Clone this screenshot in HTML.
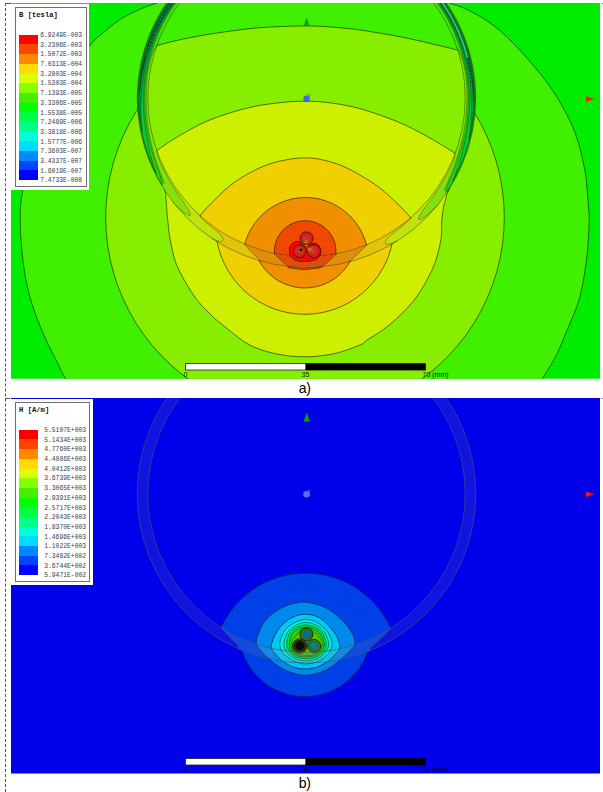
<!DOCTYPE html>
<html><head><meta charset="utf-8"><title>fig</title>
<style>html,body{margin:0;padding:0;background:#fff}body{width:603px;height:792px;position:relative;overflow:hidden;font-family:"Liberation Sans",sans-serif}</style>
</head><body>
<svg width="603" height="792" viewBox="0 0 603 792" style="position:absolute;left:0;top:0">
<defs>
<clipPath id="ca"><rect x="11" y="3" width="589" height="375.8"/></clipPath>
<clipPath id="cb"><rect x="11" y="398" width="589" height="375.6"/></clipPath>
<clipPath id="aout"><path clip-rule="evenodd" d="M-50 -50H700V450H-50Z M137.5 98a169 169 0 1 0 338 0a169 169 0 1 0 -338 0Z"/></clipPath>
<clipPath id="ain"><path clip-rule="evenodd" d="M147.5 98a159 159 0 1 0 318 0a159 159 0 1 0 -318 0Z "/></clipPath>
<clipPath id="awallc"><path clip-rule="evenodd" d="M137.2 98a169.3 169.3 0 1 0 338.6 0a169.3 169.3 0 1 0 -338.6 0Z M147.8 98a158.7 158.7 0 1 0 317.4 0a158.7 158.7 0 1 0 -317.4 0Z"/></clipPath>
<clipPath id="bout"><path clip-rule="evenodd" d="M-50 350H700V850H-50Z M137.5 493.7a169 169 0 1 0 338 0a169 169 0 1 0 -338 0Z"/></clipPath>
<clipPath id="bin"><path clip-rule="evenodd" d="M147.5 493.7a159 159 0 1 0 318 0a159 159 0 1 0 -318 0Z "/></clipPath>
</defs>
<g clip-path="url(#ca)">
<rect x="0" y="0" width="603" height="400" fill="#00ec00"/>
<path d="M157 3C148.33 6 144.17 7.25 138 10C131.83 12.75 125.67 15.83 120 19.5C114.33 23.17 109.08 27.58 104 32C98.92 36.42 96.83 37.17 89.5 46C82.17 54.83 68.92 70.17 60 85C51.08 99.83 42.2 117.5 36 135C29.8 152.5 25.42 175.5 22.8 190C20.18 204.5 20.3 210.52 20.3 222C20.3 233.48 21.57 247.83 22.8 258.9C24.03 269.97 25.65 279.38 27.7 288.4C29.75 297.42 32.22 304.78 35.1 313C37.98 321.22 41.3 329.48 45 337.7C48.7 345.92 53.82 355.45 57.3 362.3C60.78 369.15 58.78 367.52 65.9 378.8C73.02 390.08 60.15 409.8 100 430C139.85 450.2 236.67 500 305 500C373.33 500 470.43 450.2 510 430C549.57 409.8 534.63 391.37 542.4 378.8C550.17 366.23 552.47 362.77 556.6 354.6C560.73 346.43 563.37 339.23 567.2 329.8C571.03 320.37 576.37 309.8 579.6 298C582.83 286.2 585.02 271.37 586.6 259C588.18 246.63 588.8 232.63 589.1 223.8C589.4 214.97 589.1 214.85 588.4 206C587.7 197.15 586.97 182.47 584.9 170.7C582.83 158.93 579.43 145.52 576 135.4C572.57 125.28 568.97 118.6 564.3 110C559.63 101.4 555.22 93.57 548 83.8C540.78 74.03 530 61.08 521 51.4C512 41.72 503 32.68 494 25.7C485 18.72 474.42 13.28 467 9.5C459.58 5.72 457.33 5.92 449.5 3C441.67 0.08 444.08 -2.5 420 -8C395.92 -13.5 343.33 -30 305 -30C266.67 -30 214.67 -13.5 190 -8C165.33 -2.5 165.67 0 157 3Z" fill="#40f000" stroke="rgba(0,0,0,0.68)" stroke-width="0.8"/>
<circle cx="306.5" cy="98.0" r="164.0" fill="none" stroke="#40f000" stroke-width="12.200000000000022"/>
<path d="M156.63 45.81L156.17 46.58L155.55 47.57L154.81 48.79L154.02 50.24L153.2 51.91L152.41 53.82L151.66 55.91L150.93 58.18L150.21 60.69L149.85 62.09L149.5 63.48L149.15 65.04L148.81 66.59L148.47 68.33L148.14 70.08L147.83 72.07L147.53 74.06L147.35 75.55L147.18 77.03L147.02 78.52L146.88 80.12L146.75 81.71L146.64 83.31L146.53 84.96L146.45 86.61L146.38 88.26L146.32 89.91L146.27 91.56L146.25 93.21L146.21 94.8L146.2 96.4L146.2 98L146.19 99.55L146.2 101.11L146.23 102.66L146.26 104.22L146.3 105.77L146.36 107.33L146.42 108.88L146.49 110.44L146.59 111.99L146.68 113.55L146.8 115.1L146.92 116.65L147.06 118.2L147.21 119.76L147.37 121.31L147.55 122.86L147.74 124.41L147.95 125.96L148.16 127.54L148.4 129.12L148.65 130.69L148.91 132.31L149.2 133.92L149.49 135.53L149.8 137.14L150.13 138.75L150.47 140.36L150.81 141.92L151.16 143.49L151.54 145.05L151.9 146.53L152.28 148.01L152.67 149.49L153.22 151.54L153.8 153.58L154.34 155.46L154.91 157.33L155.45 159.1L156.01 160.86L156.54 162.51L157.09 164.15L157.6 165.68L158.14 167.21L158.63 168.62L159.14 170.02L160.11 172.59L161.01 174.95L161.84 177.11L162.59 179.05L163.25 180.72L163.8 182.1L164.23 183.15L160.54 185.35L162.09 187.89L163.69 190.4L165.32 192.88L167 195.34L168.73 197.76L170.49 200.16L172.3 202.52L174.15 204.85L176.03 207.15L177.96 209.41L179.93 211.64L181.94 213.83L183.98 215.99L186.06 218.12L188.18 220.21L190.33 222.26L192.52 224.27L194.75 226.24L197.01 228.17L199.3 230.07L201.63 231.92L203.98 233.74L206.37 235.51L208.79 237.24L211.24 238.92L213.72 240.57L216.22 242.17L218.76 243.72L221.32 245.24L223.91 246.7L226.52 248.12L229.16 249.5L231.82 250.83L234.5 252.11L237.2 253.34L239.93 254.53L242.68 255.67L245.44 256.76L248.23 257.81L251.03 258.8L253.85 259.75L256.69 260.64L259.54 261.49L262.4 262.28L265.28 263.03L268.17 263.73L271.08 264.37L273.99 264.96L276.91 265.51L279.85 266L282.79 266.44L285.74 266.83L288.69 267.17L291.65 267.45L294.61 267.68L297.58 267.87L300.55 268L303.53 268.07L306.5 268.1L306.5 268.1L309.47 268.07L312.45 268L315.42 267.87L318.39 267.68L321.35 267.45L324.31 267.16L327.27 266.83L330.22 266.44L333.16 266L336.09 265.51L339.01 264.96L341.93 264.37L344.83 263.72L347.72 263.03L350.6 262.28L353.47 261.49L356.32 260.64L359.15 259.75L361.97 258.8L364.78 257.81L367.56 256.76L370.33 255.67L373.08 254.53L375.8 253.34L378.51 252.11L381.19 250.82L383.85 249.5L386.49 248.12L389.1 246.7L391.69 245.23L394.25 243.72L396.78 242.16L399.29 240.56L401.77 238.92L404.22 237.23L406.64 235.5L409.03 233.73L411.38 231.92L413.71 230.06L416 228.17L418.26 226.23L420.48 224.26L422.67 222.25L424.83 220.2L426.95 218.11L429.03 215.99L431.07 213.83L433.08 211.63L435.05 209.4L436.97 207.13L438.86 204.84L440.71 202.51L442.52 200.14L444.28 197.75L446 195.33L447.69 192.87L443.78 190.25L444.32 189.22L445.02 187.84L445.85 186.18L446.76 184.29L447.73 182.24L448.7 180.1L449.65 177.9L450.6 175.6L451.57 173.13L452.09 171.79L452.6 170.44L453.17 168.95L453.72 167.45L454.34 165.78L454.95 164.09L455.63 162.21L456.28 160.31L456.75 158.92L457.21 157.53L457.65 156.13L458.12 154.64L458.58 153.14L459.02 151.64L459.47 150.06L459.91 148.47L460.34 146.89L460.77 145.25L461.18 143.61L461.58 141.97L461.98 140.3L462.36 138.63L462.72 136.95L463.09 135.21L463.44 133.47L463.77 131.73L464.11 129.89L464.43 128.06L464.73 126.22L464.96 124.8L465.17 123.38L465.36 121.95L465.55 120.53L465.73 119.1L465.9 117.66L466.05 116.22L466.19 114.78L466.32 113.36L466.44 111.94L466.55 110.52L466.64 109.1L466.75 107.27L466.84 105.44L466.9 103.6L466.96 101.78L467 99.96L467.01 98.14L467.02 96.3L467.01 94.45L466.98 92.6L466.93 90.78L466.87 88.96L466.78 87.14L466.68 85.4L466.56 83.66L466.42 81.92L466.27 80.31L466.11 78.71L465.92 77.1L465.73 75.68L465.53 74.26L465.32 72.85L465.01 71.01L464.67 69.18L464.35 67.58L464.01 65.99L463.69 64.59L463.35 63.19L462.69 60.73L462.02 58.52L461.34 56.51L460.62 54.72L459.88 53.21L459.18 51.96L458.54 50.93L458 50.1L457.59 49.45L456.83 49.69L457.66 52.35L458.44 55.01L459.17 57.69L459.85 60.38L460.49 63.08L461.08 65.8L461.62 68.52L462.12 71.25L462.56 73.99L462.96 76.74L463.31 79.49L463.61 82.26L463.87 85.02L464.07 87.79L464.22 90.56L464.33 93.34L464.39 96.11L464.4 98.89L464.36 101.67L464.27 104.44L464.13 107.22L463.94 109.99L463.71 112.75L463.43 115.52L463.09 118.27L462.71 121.02L462.28 123.77L461.81 126.5L461.28 129.23L460.71 131.95L460.09 134.65L459.42 137.35L458.7 140.03L457.94 142.7L457.13 145.36L456.28 148L455.37 150.62L454.42 153.23L453.43 155.83L452.39 158.4L451.31 160.96L450.18 163.49L449 166.01L447.78 168.51L446.52 170.98L445.22 173.43L443.87 175.86L442.48 178.26L441.05 180.64L439.57 182.99L438.06 185.32L436.5 187.62L434.91 189.89L433.27 192.14L431.6 194.35L429.88 196.54L428.13 198.69L426.34 200.81L424.51 202.91L422.65 204.96L420.75 206.99L418.82 208.98L416.85 210.94L414.85 212.86L412.81 214.75L410.74 216.6L408.64 218.42L406.5 220.2L404.34 221.93L402.14 223.64L399.92 225.3L397.67 226.92L395.39 228.51L393.08 230.05L390.74 231.55L388.38 233.01L385.99 234.43L383.58 235.81L381.15 237.14L378.69 238.43L376.21 239.68L373.71 240.88L371.18 242.04L368.64 243.16L366.08 244.23L363.5 245.25L360.9 246.23L358.28 247.17L355.65 248.05L353.01 248.9L350.35 249.69L347.67 250.44L344.98 251.14L342.29 251.79L339.58 252.4L336.86 252.95L334.13 253.46L331.39 253.93L328.64 254.34L325.89 254.71L323.13 255.02L320.37 255.29L317.6 255.51L314.83 255.68L312.05 255.8L309.28 255.88L306.5 255.9L306.5 255.9L303.74 255.88L300.98 255.8L298.22 255.68L295.47 255.51L292.71 255.3L289.96 255.03L287.22 254.72L284.48 254.36L281.75 253.95L279.03 253.49L276.32 252.99L273.61 252.44L270.92 251.84L268.23 251.19L265.56 250.5L262.9 249.76L260.25 248.98L257.62 248.14L255 247.27L252.4 246.34L249.81 245.37L247.25 244.36L244.7 243.3L242.17 242.2L239.65 241.05L237.16 239.86L234.69 238.63L232.25 237.35L229.82 236.03L227.42 234.67L225.04 233.27L222.69 231.82L220.36 230.34L218.06 228.81L215.79 227.24L213.54 225.64L211.32 223.99L209.14 222.31L206.98 220.59L204.85 218.83L202.75 217.03L200.69 215.2L198.65 213.33L196.65 211.43L194.69 209.49L192.75 207.52L190.86 205.51L189 203.48L187.17 201.4L185.38 199.3L183.63 197.17L181.91 195.01L180.23 192.81L178.6 190.59L177 188.34L175.44 186.06L173.92 183.76L172.44 181.43L171 179.07L169.6 176.69L168.25 174.28L166.94 171.85L165.67 169.4L164.44 166.93L163.26 164.43L162.12 161.92L161.02 159.38L159.97 156.83L158.96 154.26L158 151.67L157.09 149.07L156.22 146.45L155.39 143.81L154.61 141.16L153.88 138.5L153.2 135.83L152.56 133.14L151.97 130.44L151.43 127.74L150.93 125.02L150.48 122.3L150.08 119.57L149.73 116.83L149.42 114.08L149.16 111.33L148.95 108.58L148.79 105.83L148.68 103.07L148.62 100.31L148.6 97.55L148.63 94.78L148.71 92.03L148.84 89.27L149.02 86.51L149.24 83.76L149.52 81.01L149.84 78.27L150.21 75.53L150.62 72.81L151.09 70.08L151.6 67.37L152.16 64.67L152.76 61.97L153.42 59.29L154.12 56.62L154.87 53.96L155.66 51.32L156.5 48.69L157.38 46.07Z" fill="#88ee00"/>
<path d="M156.78 150.64L156.93 151.35L157.07 152.17L157.27 153.22L157.61 154.63L158.16 156.52L159.02 159L159.66 160.66L160.32 162.31L160.9 163.67L161.49 165.03L162.09 166.38L162.79 167.88L163.5 169.38L164.22 170.87L164.99 172.39L165.77 173.91L166.57 175.42L167.35 176.87L168.15 178.31L168.95 179.74L169.68 181L170.41 182.26L171.15 183.51L172.15 185.19L173.18 186.86L174.18 188.46L175.19 190.05L176.17 191.54L177.16 193.03L178.08 194.41L179.03 195.78L179.88 197.02L180.75 198.26L182.3 200.45L183.6 202.29L184.66 203.83L185.52 205.13L186.26 206.29L186.91 207.36L187.56 208.43L188.18 209.49L188.72 210.49L189.18 211.42L189.56 212.26L189.86 213.01L190.08 213.66L190.24 214.21L190.32 214.66L190.31 215.03L190.22 215.31L190.03 215.49L189.74 215.58L189.35 215.56L188.84 215.46L188.25 215.25L187.57 214.94L186.8 214.53L185.97 214.02L185.05 213.39L184.03 212.63L182.94 211.75L181.8 210.79L180.63 209.76L179.46 208.7L178.18 207.47L176.77 206.03L175.33 204.53L174 203.08L172.89 201.84L172.1 200.95L171.46 201.43L173.31 203.8L175.19 206.13L177.12 208.43L179.09 210.7L181.1 212.93L183.14 215.12L185.23 217.28L187.35 219.4L189.51 221.48L191.71 223.52L193.94 225.53L196.2 227.49L198.51 229.42L200.84 231.3L203.21 233.15L205.61 234.95L208.04 236.71L210.5 238.42L212.99 240.09L215.51 241.72L218.06 243.3L220.64 244.84L223.24 246.33L225.87 247.78L228.52 249.17L231.2 250.53L233.9 251.83L236.63 253.09L239.37 254.29L242.14 255.45L244.93 256.56L247.73 257.63L250.56 258.64L253.4 259.6L256.26 260.51L259.13 261.37L262.02 262.18L264.92 262.94L267.84 263.65L270.77 264.3L273.71 264.91L276.65 265.46L279.61 265.96L282.58 266.41L285.55 266.81L288.53 267.15L291.52 267.44L294.51 267.68L297.5 267.86L300.5 267.99L303.5 268.07L306.5 268.1L306.5 268.1L309.52 268.07L312.53 267.99L315.55 267.86L318.56 267.67L321.57 267.43L324.57 267.14L327.57 266.79L330.56 266.39L333.55 265.94L336.52 265.43L339.49 264.87L342.44 264.26L345.39 263.6L348.32 262.88L351.24 262.11L354.14 261.29L357.03 260.42L359.91 259.5L362.76 258.53L365.6 257.5L368.42 256.43L371.22 255.3L374.01 254.13L376.76 252.91L379.5 251.64L382.22 250.32L384.91 248.95L387.57 247.54L390.21 246.07L392.83 244.57L395.41 243.01L397.97 241.41L400.5 239.77L403 238.08L405.47 236.34L407.91 234.56L410.32 232.74L412.69 230.88L415.03 228.97L417.34 227.03L419.61 225.04L421.85 223.01L424.05 220.95L426.21 218.84L428.34 216.7L430.42 214.52L432.47 212.3L434.48 210.05L436.45 207.76L438.37 205.44L437.75 204.93L436.91 205.83L435.72 207.09L434.3 208.54L432.77 210.06L431.26 211.51L429.9 212.74L428.65 213.81L427.42 214.84L426.21 215.8L425.05 216.67L423.98 217.43L423.01 218.06L422.13 218.57L421.33 218.97L420.62 219.27L420 219.47L419.49 219.57L419.08 219.58L418.79 219.49L418.61 219.3L418.53 219.02L418.55 218.64L418.65 218.18L418.84 217.62L419.1 216.97L419.45 216.21L419.88 215.36L420.4 214.42L421 213.42L421.68 212.34L422.39 211.26L423.12 210.18L423.92 209.02L424.87 207.7L426.02 206.15L427.43 204.28L429.11 202.07L430.05 200.82L430.98 199.56L432 198.17L433.01 196.77L434.08 195.27L435.13 193.75L436.23 192.14L437.32 190.51L438.43 188.81L439.51 187.1L440.32 185.82L441.11 184.54L441.9 183.25L442.77 181.79L443.63 180.32L444.48 178.84L445.35 177.3L446.2 175.75L447.03 174.18L447.82 172.66L448.59 171.13L449.34 169.59L450 168.21L450.65 166.81L451.28 165.41L452 163.72L452.7 162.01L453.64 159.46L454.26 157.52L454.64 156.07L454.88 154.98L455.05 154.14L455.21 153.41L454.46 153.13L453.47 155.72L452.43 158.3L451.35 160.86L450.22 163.4L449.05 165.91L447.83 168.41L446.57 170.89L445.27 173.34L443.92 175.77L442.53 178.18L441.1 180.56L439.62 182.91L438.11 185.24L436.55 187.55L434.96 189.82L433.32 192.07L431.65 194.28L429.93 196.47L428.18 198.63L426.39 200.75L424.57 202.85L422.7 204.91L420.8 206.94L418.87 208.93L416.9 210.89L414.9 212.82L412.86 214.7L410.79 216.56L408.69 218.37L406.55 220.15L404.39 221.9L402.19 223.6L399.97 225.26L397.72 226.89L395.43 228.47L393.12 230.02L390.79 231.52L388.42 232.98L386.04 234.4L383.62 235.78L381.19 237.12L378.73 238.41L376.25 239.66L373.74 240.87L371.22 242.03L368.68 243.14L366.11 244.22L363.53 245.24L360.93 246.22L358.31 247.16L355.68 248.05L353.03 248.89L350.37 249.68L347.7 250.43L345.01 251.13L342.31 251.79L339.59 252.39L336.87 252.95L334.14 253.46L331.4 253.92L328.65 254.34L325.9 254.7L323.14 255.02L320.37 255.29L317.6 255.51L314.83 255.68L312.06 255.8L309.28 255.88L306.5 255.9L306.5 255.9L303.72 255.88L300.94 255.8L298.16 255.68L295.39 255.51L292.61 255.29L289.85 255.02L287.08 254.7L284.33 254.34L281.58 253.92L278.84 253.46L276.1 252.95L273.38 252.39L270.67 251.78L267.96 251.13L265.27 250.42L262.6 249.67L259.93 248.88L257.28 248.03L254.65 247.14L252.03 246.21L249.43 245.22L246.84 244.2L244.28 243.12L241.73 242.01L239.21 240.84L236.7 239.64L234.22 238.38L231.76 237.09L229.32 235.75L226.91 234.37L224.52 232.95L222.15 231.48L219.82 229.98L217.51 228.43L215.22 226.84L212.97 225.22L210.74 223.55L208.55 221.84L206.38 220.1L204.25 218.32L202.14 216.5L200.07 214.64L198.03 212.75L196.03 210.82L194.06 208.86L192.13 206.86L190.23 204.83L188.36 202.77L186.54 200.67L184.75 198.54L183 196.38L181.28 194.19L179.61 191.97L177.97 189.72L176.38 187.45L174.82 185.14L173.31 182.81L171.84 180.45L170.41 178.07L169.02 175.66L167.67 173.22L166.37 170.77L165.11 168.29L163.89 165.79L162.72 163.27L161.59 160.72L160.51 158.16L159.47 155.58L158.48 152.99L157.54 150.37Z" fill="#ccf000"/>
<path d="M199.79 215.47L199.97 215.77L200.15 216.13L200.4 216.58L200.77 217.15L201.33 217.87L202.15 218.76L203.33 219.9L204.84 221.27L206.56 222.76L208.37 224.27L210.11 225.71L211.66 226.99L213.04 228.14L214.37 229.25L215.63 230.3L216.81 231.29L217.87 232.19L218.8 233.01L219.56 233.73L220.17 234.36L220.66 234.91L221.07 235.43L221.43 235.93L221.78 236.43L222.11 236.95L222.38 237.47L222.61 237.97L222.79 238.44L222.93 238.88L223.02 239.28L223.08 239.64L223.09 239.96L223.06 240.24L222.98 240.5L222.84 240.72L222.65 240.92L222.4 241.09L222.09 241.22L221.72 241.33L221.31 241.4L220.85 241.43L220.35 241.42L219.8 241.35L219.2 241.24L218.55 241.08L217.87 240.89L217.17 240.67L216.47 240.43L215.7 240.14L214.84 239.77L213.96 239.38L213.13 239L212.44 238.66L211.94 238.43L211.49 239.09L214.04 240.78L216.62 242.41L219.23 244L221.86 245.55L224.53 247.04L227.22 248.49L229.93 249.89L232.67 251.24L235.43 252.54L238.22 253.79L241.03 255L243.86 256.15L246.71 257.25L249.58 258.29L252.47 259.29L255.37 260.23L258.29 261.13L261.23 261.97L264.18 262.75L267.15 263.49L270.13 264.17L273.12 264.79L276.12 265.36L279.13 265.88L282.15 266.35L285.17 266.76L288.21 267.11L291.25 267.41L294.29 267.66L297.34 267.85L300.39 267.99L303.45 268.07L306.5 268.1L306.5 268.1L309.5 268.07L312.5 267.99L315.49 267.86L318.49 267.68L321.48 267.44L324.46 267.15L327.44 266.81L330.42 266.41L333.38 265.96L336.34 265.46L339.29 264.91L342.23 264.31L345.15 263.65L348.07 262.94L350.97 262.18L353.86 261.37L356.73 260.51L359.59 259.6L362.43 258.64L365.26 257.63L368.06 256.57L370.85 255.46L373.62 254.3L376.36 253.09L379.09 251.84L381.79 250.53L384.46 249.18L387.12 247.78L389.75 246.34L392.35 244.85L394.93 243.31L397.47 241.73L397.05 241.05L396.51 241.3L395.75 241.64L394.85 242.03L393.9 242.44L392.97 242.82L392.13 243.12L391.37 243.37L390.62 243.59L389.89 243.79L389.19 243.95L388.55 244.06L387.96 244.13L387.44 244.14L386.95 244.11L386.52 244.04L386.14 243.93L385.82 243.79L385.57 243.62L385.38 243.42L385.25 243.19L385.18 242.93L385.16 242.64L385.2 242.31L385.28 241.95L385.41 241.55L385.59 241.1L385.81 240.61L386.08 240.1L386.41 239.58L386.79 239.05L387.19 238.53L387.6 238.02L388.07 237.5L388.62 236.93L389.31 236.29L390.17 235.55L391.2 234.71L392.38 233.78L393.68 232.76L395.07 231.67L396.55 230.52L398.07 229.33L399.78 228L401.7 226.5L403.68 224.92L405.58 223.35L407.24 221.92L408.54 220.72L409.44 219.79L410.07 219.03L410.49 218.43L410.78 217.96L410.99 217.58L411.19 217.27L410.66 216.67L408.56 218.48L406.43 220.26L404.26 221.99L402.07 223.69L399.85 225.35L397.6 226.97L395.32 228.55L393.01 230.09L390.67 231.59L388.31 233.05L385.93 234.47L383.52 235.84L381.08 237.17L378.63 238.46L376.15 239.71L373.65 240.91L371.13 242.07L368.59 243.18L366.03 244.25L363.45 245.27L360.85 246.25L358.24 247.18L355.61 248.07L352.96 248.91L350.31 249.7L347.63 250.45L344.95 251.15L342.25 251.8L339.55 252.4L336.83 252.96L334.1 253.47L331.36 253.93L328.62 254.34L325.87 254.71L323.11 255.02L320.35 255.29L317.59 255.51L314.82 255.68L312.05 255.8L309.27 255.88L306.5 255.9L306.5 255.9L303.73 255.88L300.96 255.8L298.19 255.68L295.42 255.51L292.66 255.29L289.9 255.02L287.14 254.71L284.39 254.34L281.65 253.93L278.92 253.47L276.19 252.96L273.48 252.41L270.77 251.8L268.08 251.15L265.39 250.46L262.72 249.71L260.07 248.92L257.42 248.08L254.8 247.19L252.18 246.26L249.59 245.29L247.01 244.27L244.45 243.2L241.91 242.09L239.39 240.93L236.9 239.73L234.42 238.49L231.96 237.2L229.53 235.87L227.12 234.5L224.74 233.08L222.38 231.63L220.04 230.13L217.74 228.59L215.46 227.01L213.21 225.39L210.99 223.74L208.79 222.04L206.63 220.3L204.5 218.53L202.4 216.72L200.33 214.88Z" fill="#f0d000"/>
<path d="M244.42 244.05L246.22 246.19L247.57 247.73L248.95 249.26L250.03 250.44L251.13 251.61L252.25 252.77L253.38 253.92L254.53 255.06L255.69 256.2L257.22 257.66L258.78 259.1L260.95 261.06L260.74 261.83L263.72 262.63L266.72 263.38L269.72 264.08L272.75 264.72L275.78 265.3L278.82 265.83L281.88 266.31L284.94 266.73L288 267.09L291.08 267.4L294.15 267.65L297.24 267.85L300.32 267.99L303.41 268.07L306.5 268.1L306.5 268.1L309.57 268.07L312.63 267.99L315.7 267.85L318.76 267.66L321.82 267.41L324.87 267.11L327.91 266.75L330.95 266.33L333.98 265.86L337.01 265.34L340.02 264.76L343.02 264.13L346.01 263.45L348.99 262.71L348.79 261.93L351.17 259.98L352.88 258.52L354.56 257.06L355.84 255.91L357.1 254.75L358.35 253.59L359.57 252.41L360.78 251.23L361.97 250.04L363.49 248.48L364.98 246.9L366.97 244.73L366.66 243.99L364.06 245.04L361.44 246.04L358.8 246.99L356.14 247.89L353.47 248.75L350.79 249.56L348.09 250.33L345.37 251.04L342.65 251.71L339.91 252.32L337.16 252.89L334.41 253.41L331.64 253.89L328.87 254.31L326.09 254.68L323.3 255L320.51 255.28L317.71 255.5L314.91 255.68L312.11 255.8L309.31 255.88L306.5 255.9L306.5 255.9L303.74 255.88L300.98 255.8L298.23 255.68L295.47 255.51L292.72 255.3L289.97 255.03L287.23 254.72L284.5 254.36L281.77 253.95L279.05 253.5L276.33 252.99L273.63 252.44L270.94 251.84L268.25 251.2L265.58 250.51L262.92 249.77L260.28 248.98L257.65 248.15L255.03 247.28L252.43 246.35L249.85 245.39L247.28 244.37L244.73 243.32Z" fill="#f09000"/>
<path d="M273.81 253.3L274.67 254.2L275.9 255.46L277.37 256.93L278.94 258.47L280.48 259.92L281.83 261.14L283.03 262.21L284.24 263.25L285.38 264.21L286.41 265.06L287.28 265.76L287.94 266.28L287.85 267.07L290.95 267.39L294.05 267.64L297.16 267.84L300.27 267.99L303.39 268.07L306.5 268.1L306.5 268.1L309.64 268.07L312.78 267.98L315.91 267.84L319.05 267.64L322.17 267.38L322.1 266.58L322.76 266.07L323.65 265.38L324.7 264.55L325.86 263.61L327.09 262.6L328.32 261.55L329.7 260.34L331.29 258.92L332.91 257.41L334.42 255.96L335.69 254.71L336.57 253.82L336.42 253.04L333.46 253.58L330.49 254.07L327.51 254.5L324.52 254.87L321.53 255.18L318.53 255.44L315.53 255.64L312.52 255.79L309.51 255.87L306.5 255.9L306.5 255.9L303.52 255.87L300.55 255.79L297.57 255.65L294.6 255.45L291.63 255.2L288.67 254.89L285.71 254.53L282.77 254.11L279.83 253.63L276.9 253.1L273.98 252.51Z" fill="#f04800"/>
<g clip-path="url(#aout)"><path d="M504.3 217.5L503.81 231.4L502.36 245.24L499.94 258.94L496.58 272.43L492.28 285.66L487.07 298.56L480.97 311.07L474.02 323.11L466.24 334.65L457.67 345.61L448.36 355.95L438.36 365.61L427.7 374.55L416.45 382.73L404.65 390.1L392.37 396.63L379.66 402.29L366.59 407.05L353.22 410.88L339.61 413.77L325.83 415.71L311.96 416.68L298.04 416.68L284.17 415.71L270.39 413.77L256.78 410.88L243.41 407.05L230.34 402.29L217.63 396.63L205.35 390.1L193.55 382.73L182.3 374.55L171.64 365.61L161.64 355.95L152.33 345.61L143.76 334.65L135.98 323.11L129.03 311.07L122.93 298.56L117.72 285.66L113.42 272.43L110.06 258.94L107.64 245.24L106.19 231.4L105.7 217.5L106.19 203.6L107.64 189.76L110.06 176.06L113.42 162.57L117.72 149.34L122.93 136.44L129.03 123.93L135.98 111.89L143.76 100.35L152.33 89.39L161.64 79.05L171.64 69.39L182.3 60.45L193.55 52.27L205.35 44.9L217.63 38.37L230.34 32.71L243.41 27.95L256.78 24.12L270.39 21.23L284.17 19.29L298.04 18.32L311.96 18.32L325.83 19.29L339.61 21.23L353.22 24.12L366.59 27.95L379.66 32.71L392.37 38.37L404.65 44.9L416.45 52.27L427.7 60.45L438.36 69.39L448.36 79.05L457.67 89.39L466.24 100.35L474.02 111.89L480.97 123.93L487.07 136.44L492.28 149.34L496.58 162.57L499.94 176.06L502.36 189.76L503.81 203.6L504.3 217.5Z" fill="#88ee00"/><path d="M504.3 217.5L503.81 231.4L502.36 245.24L499.94 258.94L496.58 272.43L492.28 285.66L487.07 298.56L480.97 311.07L474.02 323.11L466.24 334.65L457.67 345.61L448.36 355.95L438.36 365.61L427.7 374.55L416.45 382.73L404.65 390.1L392.37 396.63L379.66 402.29L366.59 407.05L353.22 410.88L339.61 413.77L325.83 415.71L311.96 416.68L298.04 416.68L284.17 415.71L270.39 413.77L256.78 410.88L243.41 407.05L230.34 402.29L217.63 396.63L205.35 390.1L193.55 382.73L182.3 374.55L171.64 365.61L161.64 355.95L152.33 345.61L143.76 334.65L135.98 323.11L129.03 311.07L122.93 298.56L117.72 285.66L113.42 272.43L110.06 258.94L107.64 245.24L106.19 231.4L105.7 217.5L106.19 203.6L107.64 189.76L110.06 176.06L113.42 162.57L117.72 149.34L122.93 136.44L129.03 123.93L135.98 111.89L143.76 100.35L152.33 89.39L161.64 79.05L171.64 69.39L182.3 60.45L193.55 52.27L205.35 44.9L217.63 38.37L230.34 32.71L243.41 27.95L256.78 24.12L270.39 21.23L284.17 19.29L298.04 18.32L311.96 18.32L325.83 19.29L339.61 21.23L353.22 24.12L366.59 27.95L379.66 32.71L392.37 38.37L404.65 44.9L416.45 52.27L427.7 60.45L438.36 69.39L448.36 79.05L457.67 89.39L466.24 100.35L474.02 111.89L480.97 123.93L487.07 136.44L492.28 149.34L496.58 162.57L499.94 176.06L502.36 189.76L503.81 203.6L504.3 217.5Z" fill="none" stroke="rgba(0,0,0,0.68)" stroke-width="0.8"/><path d="M164.6 170C158.9 180.78 165.43 188.03 165.8 194.7C166.17 201.37 166.38 204.78 166.8 210C167.22 215.22 167.72 221 168.3 226C168.88 231 168.92 233.52 170.3 240C171.68 246.48 172.78 255.78 176.6 264.9C180.42 274.02 187.67 286.55 193.2 294.7C198.73 302.85 204.28 308.27 209.8 313.8C215.32 319.33 219.67 322.7 226.3 327.9C232.93 333.1 241.15 340.65 249.6 345C258.05 349.35 267.6 352.03 277 354C286.4 355.97 296.33 356.88 306 356.8C315.67 356.72 326 355.47 335 353.5C344 351.53 354.73 347.2 360 345C365.27 342.8 362.73 342.87 366.6 340.3C370.47 337.73 377.67 333.73 383.2 329.6C388.73 325.47 394.28 320.9 399.8 315.5C405.32 310.1 410.78 305.08 416.3 297.2C421.82 289.32 428.8 277.73 432.9 268.2C437 258.67 439.42 248.03 440.9 240C442.38 231.97 441.28 225.83 441.8 220C442.32 214.17 443.3 208.77 444 205C444.7 201.23 445.17 202.4 446 197.4C446.83 192.4 453.33 186.23 449 175C444.67 163.77 443.83 140.83 420 130C396.17 119.17 342.67 110 306 110C269.33 110 223.57 120 200 130C176.43 140 170.3 159.22 164.6 170Z" fill="#ccf000"/><path d="M164.6 170C158.9 180.78 165.43 188.03 165.8 194.7C166.17 201.37 166.38 204.78 166.8 210C167.22 215.22 167.72 221 168.3 226C168.88 231 168.92 233.52 170.3 240C171.68 246.48 172.78 255.78 176.6 264.9C180.42 274.02 187.67 286.55 193.2 294.7C198.73 302.85 204.28 308.27 209.8 313.8C215.32 319.33 219.67 322.7 226.3 327.9C232.93 333.1 241.15 340.65 249.6 345C258.05 349.35 267.6 352.03 277 354C286.4 355.97 296.33 356.88 306 356.8C315.67 356.72 326 355.47 335 353.5C344 351.53 354.73 347.2 360 345C365.27 342.8 362.73 342.87 366.6 340.3C370.47 337.73 377.67 333.73 383.2 329.6C388.73 325.47 394.28 320.9 399.8 315.5C405.32 310.1 410.78 305.08 416.3 297.2C421.82 289.32 428.8 277.73 432.9 268.2C437 258.67 439.42 248.03 440.9 240C442.38 231.97 441.28 225.83 441.8 220C442.32 214.17 443.3 208.77 444 205C444.7 201.23 445.17 202.4 446 197.4C446.83 192.4 453.33 186.23 449 175C444.67 163.77 443.83 140.83 420 130C396.17 119.17 342.67 110 306 110C269.33 110 223.57 120 200 130C176.43 140 170.3 159.22 164.6 170Z" fill="none" stroke="rgba(0,0,0,0.68)" stroke-width="0.8"/><path d="M394.1 225L393.76 232.78L392.74 240.51L391.06 248.11L388.71 255.54L385.73 262.74L382.14 269.65L377.95 276.22L373.21 282.4L367.94 288.14L362.2 293.41L356.02 298.15L349.45 302.34L342.54 305.93L335.34 308.91L327.91 311.26L320.31 312.94L312.58 313.96L304.8 314.3L297.02 313.96L289.29 312.94L281.69 311.26L274.26 308.91L267.06 305.93L260.15 302.34L253.58 298.15L247.4 293.41L241.66 288.14L236.39 282.4L231.65 276.22L227.46 269.65L223.87 262.74L220.89 255.54L218.54 248.11L216.86 240.51L215.84 232.78L215.5 225L215.84 217.22L216.86 209.49L218.54 201.89L220.89 194.46L223.87 187.26L227.46 180.35L231.65 173.78L236.39 167.6L241.66 161.86L247.4 156.59L253.58 151.85L260.15 147.66L267.06 144.07L274.26 141.09L281.69 138.74L289.29 137.06L297.02 136.04L304.8 135.7L312.58 136.04L320.31 137.06L327.91 138.74L335.34 141.09L342.54 144.07L349.45 147.66L356.02 151.85L362.2 156.59L367.94 161.86L373.21 167.6L377.95 173.78L382.14 180.35L385.73 187.26L388.71 194.46L391.06 201.89L392.74 209.49L393.76 217.22L394.1 225Z" fill="#f0d000"/><path d="M394.1 225L393.76 232.78L392.74 240.51L391.06 248.11L388.71 255.54L385.73 262.74L382.14 269.65L377.95 276.22L373.21 282.4L367.94 288.14L362.2 293.41L356.02 298.15L349.45 302.34L342.54 305.93L335.34 308.91L327.91 311.26L320.31 312.94L312.58 313.96L304.8 314.3L297.02 313.96L289.29 312.94L281.69 311.26L274.26 308.91L267.06 305.93L260.15 302.34L253.58 298.15L247.4 293.41L241.66 288.14L236.39 282.4L231.65 276.22L227.46 269.65L223.87 262.74L220.89 255.54L218.54 248.11L216.86 240.51L215.84 232.78L215.5 225L215.84 217.22L216.86 209.49L218.54 201.89L220.89 194.46L223.87 187.26L227.46 180.35L231.65 173.78L236.39 167.6L241.66 161.86L247.4 156.59L253.58 151.85L260.15 147.66L267.06 144.07L274.26 141.09L281.69 138.74L289.29 137.06L297.02 136.04L304.8 135.7L312.58 136.04L320.31 137.06L327.91 138.74L335.34 141.09L342.54 144.07L349.45 147.66L356.02 151.85L362.2 156.59L367.94 161.86L373.21 167.6L377.95 173.78L382.14 180.35L385.73 187.26L388.71 194.46L391.06 201.89L392.74 209.49L393.76 217.22L394.1 225Z" fill="none" stroke="rgba(0,0,0,0.68)" stroke-width="0.8"/><path d="M356.8 236L356.52 241.44L355.66 246.81L354.25 252.07L352.3 257.15L349.83 262L346.87 266.56L343.44 270.79L339.59 274.64L335.36 278.07L330.8 281.03L325.95 283.5L320.87 285.45L315.61 286.86L310.24 287.72L304.8 288L299.36 287.72L293.99 286.86L288.73 285.45L283.65 283.5L278.8 281.03L274.24 278.07L270.01 274.64L266.16 270.79L262.73 266.56L259.77 262L257.3 257.15L255.35 252.07L253.94 246.81L253.08 241.44L252.8 236L253.08 230.56L253.94 225.19L255.35 219.93L257.3 214.85L259.77 210L262.73 205.44L266.16 201.21L270.01 197.36L274.24 193.93L278.8 190.97L283.65 188.5L288.73 186.55L293.99 185.14L299.36 184.28L304.8 184L310.24 184.28L315.61 185.14L320.87 186.55L325.95 188.5L330.8 190.97L335.36 193.93L339.59 197.36L343.44 201.21L346.87 205.44L349.83 210L352.3 214.85L354.25 219.93L355.66 225.19L356.52 230.56L356.8 236Z" fill="#f09000"/><path d="M356.8 236L356.52 241.44L355.66 246.81L354.25 252.07L352.3 257.15L349.83 262L346.87 266.56L343.44 270.79L339.59 274.64L335.36 278.07L330.8 281.03L325.95 283.5L320.87 285.45L315.61 286.86L310.24 287.72L304.8 288L299.36 287.72L293.99 286.86L288.73 285.45L283.65 283.5L278.8 281.03L274.24 278.07L270.01 274.64L266.16 270.79L262.73 266.56L259.77 262L257.3 257.15L255.35 252.07L253.94 246.81L253.08 241.44L252.8 236L253.08 230.56L253.94 225.19L255.35 219.93L257.3 214.85L259.77 210L262.73 205.44L266.16 201.21L270.01 197.36L274.24 193.93L278.8 190.97L283.65 188.5L288.73 186.55L293.99 185.14L299.36 184.28L304.8 184L310.24 184.28L315.61 185.14L320.87 186.55L325.95 188.5L330.8 190.97L335.36 193.93L339.59 197.36L343.44 201.21L346.87 205.44L349.83 210L352.3 214.85L354.25 219.93L355.66 225.19L356.52 230.56L356.8 236Z" fill="none" stroke="rgba(0,0,0,0.68)" stroke-width="0.8"/><path d="M288 265.7C286.5 268.8 293.33 267.97 296 268.6C298.67 269.23 301.17 269.5 304 269.5C306.83 269.5 310 269.27 313 268.6C316 267.93 323.33 268.6 322 265.5C320.67 262.4 310.67 249.97 305 250C299.33 250.03 289.5 262.6 288 265.7Z" fill="#f04800"/><path d="M288 265.7C286.5 268.8 293.33 267.97 296 268.6C298.67 269.23 301.17 269.5 304 269.5C306.83 269.5 310 269.27 313 268.6C316 267.93 323.33 268.6 322 265.5C320.67 262.4 310.67 249.97 305 250C299.33 250.03 289.5 262.6 288 265.7Z" fill="none" stroke="rgba(0,0,0,0.68)" stroke-width="0.8"/></g>
<g clip-path="url(#ain)"><path d="M138 52C141.1 50.97 150.18 47.72 156.6 45.8C163.02 43.88 168.75 42.27 176.5 40.5C184.25 38.73 194.25 36.75 203.1 35.2C211.95 33.65 220.77 32.4 229.6 31.2C238.43 30 247.25 28.78 256.1 28C264.95 27.22 274.55 26.85 282.7 26.5C290.85 26.15 297.7 25.87 305 25.9C312.3 25.93 318.48 26.17 326.5 26.7C334.52 27.23 344.25 28.03 353.1 29.1C361.95 30.17 370.77 31.63 379.6 33.1C388.43 34.57 397.25 36.08 406.1 37.9C414.95 39.72 424.3 42.02 432.7 44C441.1 45.98 449.28 47.97 456.5 49.8C463.72 51.63 472.75 54.13 476 55L520 400L100 400Z" fill="#88ee00"/><path d="M138 52C141.1 50.97 150.18 47.72 156.6 45.8C163.02 43.88 168.75 42.27 176.5 40.5C184.25 38.73 194.25 36.75 203.1 35.2C211.95 33.65 220.77 32.4 229.6 31.2C238.43 30 247.25 28.78 256.1 28C264.95 27.22 274.55 26.85 282.7 26.5C290.85 26.15 297.7 25.87 305 25.9C312.3 25.93 318.48 26.17 326.5 26.7C334.52 27.23 344.25 28.03 353.1 29.1C361.95 30.17 370.77 31.63 379.6 33.1C388.43 34.57 397.25 36.08 406.1 37.9C414.95 39.72 424.3 42.02 432.7 44C441.1 45.98 449.28 47.97 456.5 49.8C463.72 51.63 472.75 54.13 476 55" fill="none" stroke="rgba(0,0,0,0.68)" stroke-width="0.8"/><path d="M138 165C141.1 162.62 150.18 155.28 156.6 150.7C163.02 146.12 168.75 142.13 176.5 137.5C184.25 132.87 194.25 126.98 203.1 122.9C211.95 118.82 220.77 115.8 229.6 113C238.43 110.2 247.25 107.87 256.1 106.1C264.95 104.33 274.55 103.22 282.7 102.4C290.85 101.58 297.7 101.2 305 101.2C312.3 101.2 318.48 101.45 326.5 102.4C334.52 103.35 344.25 104.82 353.1 106.9C361.95 108.98 370.77 111.8 379.6 114.9C388.43 118 397.25 121.38 406.1 125.5C414.95 129.62 424.52 134.95 432.7 139.6C440.88 144.25 448.32 149 455.2 153.4C462.08 157.8 470.87 163.9 474 166L520 400L100 400Z" fill="#ccf000"/><path d="M138 165C141.1 162.62 150.18 155.28 156.6 150.7C163.02 146.12 168.75 142.13 176.5 137.5C184.25 132.87 194.25 126.98 203.1 122.9C211.95 118.82 220.77 115.8 229.6 113C238.43 110.2 247.25 107.87 256.1 106.1C264.95 104.33 274.55 103.22 282.7 102.4C290.85 101.58 297.7 101.2 305 101.2C312.3 101.2 318.48 101.45 326.5 102.4C334.52 103.35 344.25 104.82 353.1 106.9C361.95 108.98 370.77 111.8 379.6 114.9C388.43 118 397.25 121.38 406.1 125.5C414.95 129.62 424.52 134.95 432.7 139.6C440.88 144.25 448.32 149 455.2 153.4C462.08 157.8 470.87 163.9 474 166" fill="none" stroke="rgba(0,0,0,0.68)" stroke-width="0.8"/><path d="M182 236C185 232.6 195.35 220.82 200 215.6C204.65 210.38 204.93 209.67 209.9 204.7C214.87 199.73 223.17 191.1 229.8 185.8C236.43 180.5 243.07 176.55 249.7 172.9C256.33 169.25 262.97 166.17 269.6 163.9C276.23 161.63 283.53 160.3 289.5 159.3C295.47 158.3 300.33 157.9 305.4 157.9C310.47 157.9 314.17 158.13 319.9 159.3C325.63 160.47 333.17 162.3 339.8 164.9C346.43 167.5 353.07 171.08 359.7 174.9C366.33 178.72 372.97 182.67 379.6 187.8C386.23 192.93 394.2 200.57 399.5 205.7C404.8 210.83 407.32 213.72 411.4 218.6C415.48 223.48 421.9 232.27 424 235L520 400L100 400Z" fill="#f0d000"/><path d="M182 236C185 232.6 195.35 220.82 200 215.6C204.65 210.38 204.93 209.67 209.9 204.7C214.87 199.73 223.17 191.1 229.8 185.8C236.43 180.5 243.07 176.55 249.7 172.9C256.33 169.25 262.97 166.17 269.6 163.9C276.23 161.63 283.53 160.3 289.5 159.3C295.47 158.3 300.33 157.9 305.4 157.9C310.47 157.9 314.17 158.13 319.9 159.3C325.63 160.47 333.17 162.3 339.8 164.9C346.43 167.5 353.07 171.08 359.7 174.9C366.33 178.72 372.97 182.67 379.6 187.8C386.23 192.93 394.2 200.57 399.5 205.7C404.8 210.83 407.32 213.72 411.4 218.6C415.48 223.48 421.9 232.27 424 235" fill="none" stroke="rgba(0,0,0,0.68)" stroke-width="0.8"/><path d="M368.4 260.4L368.06 266.97L367.03 273.48L365.32 279.84L362.96 285.98L359.97 291.85L356.39 297.37L352.24 302.49L347.59 307.14L342.47 311.29L336.95 314.87L331.08 317.86L324.94 320.22L318.58 321.93L312.07 322.96L305.5 323.3L298.93 322.96L292.42 321.93L286.06 320.22L279.92 317.86L274.05 314.87L268.53 311.29L263.41 307.14L258.76 302.49L254.61 297.37L251.03 291.85L248.04 285.98L245.68 279.84L243.97 273.48L242.94 266.97L242.6 260.4L242.94 253.83L243.97 247.32L245.68 240.96L248.04 234.82L251.03 228.95L254.61 223.43L258.76 218.31L263.41 213.66L268.53 209.51L274.05 205.93L279.92 202.94L286.06 200.58L292.42 198.87L298.93 197.84L305.5 197.5L312.07 197.84L318.58 198.87L324.94 200.58L331.08 202.94L336.95 205.93L342.47 209.51L347.59 213.66L352.24 218.31L356.39 223.43L359.97 228.95L362.96 234.82L365.32 240.96L367.03 247.32L368.06 253.83L368.4 260.4Z" fill="#f09000"/><path d="M368.4 260.4L368.06 266.97L367.03 273.48L365.32 279.84L362.96 285.98L359.97 291.85L356.39 297.37L352.24 302.49L347.59 307.14L342.47 311.29L336.95 314.87L331.08 317.86L324.94 320.22L318.58 321.93L312.07 322.96L305.5 323.3L298.93 322.96L292.42 321.93L286.06 320.22L279.92 317.86L274.05 314.87L268.53 311.29L263.41 307.14L258.76 302.49L254.61 297.37L251.03 291.85L248.04 285.98L245.68 279.84L243.97 273.48L242.94 266.97L242.6 260.4L242.94 253.83L243.97 247.32L245.68 240.96L248.04 234.82L251.03 228.95L254.61 223.43L258.76 218.31L263.41 213.66L268.53 209.51L274.05 205.93L279.92 202.94L286.06 200.58L292.42 198.87L298.93 197.84L305.5 197.5L312.07 197.84L318.58 198.87L324.94 200.58L331.08 202.94L336.95 205.93L342.47 209.51L347.59 213.66L352.24 218.31L356.39 223.43L359.97 228.95L362.96 234.82L365.32 240.96L367.03 247.32L368.06 253.83L368.4 260.4Z" fill="none" stroke="rgba(0,0,0,0.68)" stroke-width="0.8"/><path d="M336 251.5L335.74 255.52L334.95 259.47L333.66 263.29L331.87 266.9L329.64 270.25L326.98 273.28L323.95 275.94L320.6 278.17L316.99 279.96L313.17 281.25L309.22 282.04L305.2 282.3L301.18 282.04L297.23 281.25L293.41 279.96L289.8 278.17L286.45 275.94L283.42 273.28L280.76 270.25L278.53 266.9L276.74 263.29L275.45 259.47L274.66 255.52L274.4 251.5L274.66 247.48L275.45 243.53L276.74 239.71L278.53 236.1L280.76 232.75L283.42 229.72L286.45 227.06L289.8 224.83L293.41 223.04L297.23 221.75L301.18 220.96L305.2 220.7L309.22 220.96L313.17 221.75L316.99 223.04L320.6 224.83L323.95 227.06L326.98 229.72L329.64 232.75L331.87 236.1L333.66 239.71L334.95 243.53L335.74 247.48L336 251.5Z" fill="#f04800"/><path d="M336 251.5L335.74 255.52L334.95 259.47L333.66 263.29L331.87 266.9L329.64 270.25L326.98 273.28L323.95 275.94L320.6 278.17L316.99 279.96L313.17 281.25L309.22 282.04L305.2 282.3L301.18 282.04L297.23 281.25L293.41 279.96L289.8 278.17L286.45 275.94L283.42 273.28L280.76 270.25L278.53 266.9L276.74 263.29L275.45 259.47L274.66 255.52L274.4 251.5L274.66 247.48L275.45 243.53L276.74 239.71L278.53 236.1L280.76 232.75L283.42 229.72L286.45 227.06L289.8 224.83L293.41 223.04L297.23 221.75L301.18 220.96L305.2 220.7L309.22 220.96L313.17 221.75L316.99 223.04L320.6 224.83L323.95 227.06L326.98 229.72L329.64 232.75L331.87 236.1L333.66 239.71L334.95 243.53L335.74 247.48L336 251.5Z" fill="none" stroke="rgba(0,0,0,0.68)" stroke-width="0.8"/></g>
<path d="M156.63 45.81L156.17 46.58L155.55 47.57L154.81 48.79L154.02 50.24L153.2 51.91L152.41 53.82L151.66 55.91L150.93 58.18L150.21 60.69L149.85 62.09L149.5 63.48L149.15 65.04L148.81 66.59L148.47 68.33L148.14 70.08L147.83 72.07L147.53 74.06L147.35 75.55L147.18 77.03L147.02 78.52L146.88 80.12L146.75 81.71L146.64 83.31L146.53 84.96L146.45 86.61L146.38 88.26L146.32 89.91L146.27 91.56L146.25 93.21L146.21 94.8L146.2 96.4L146.2 98L146.19 99.55L146.2 101.11L146.23 102.66L146.26 104.22L146.3 105.77L146.36 107.33L146.42 108.88L146.49 110.44L146.59 111.99L146.68 113.55L146.8 115.1L146.92 116.65L147.06 118.2L147.21 119.76L147.37 121.31L147.55 122.86L147.74 124.41L147.95 125.96L148.16 127.54L148.4 129.12L148.65 130.69L148.91 132.31L149.2 133.92L149.49 135.53L149.8 137.14L150.13 138.75L150.47 140.36L150.81 141.92L151.16 143.49L151.54 145.05L151.9 146.53L152.28 148.01L152.67 149.49L153.22 151.54L153.8 153.58L154.34 155.46L154.91 157.33L155.45 159.1L156.01 160.86L156.54 162.51L157.09 164.15L157.6 165.68L158.14 167.21L158.63 168.62L159.14 170.02L160.11 172.59L161.01 174.95L161.84 177.11L162.59 179.05L163.25 180.72L163.8 182.1L164.23 183.15" fill="none" stroke="#000" stroke-width="0.6" stroke-opacity="0.55"/>
<path d="M457.59 49.45L458 50.1L458.54 50.93L459.18 51.96L459.88 53.21L460.62 54.72L461.34 56.51L462.02 58.52L462.69 60.73L463.35 63.19L463.69 64.59L464.01 65.99L464.35 67.58L464.67 69.18L465.01 71.01L465.32 72.85L465.53 74.26L465.73 75.68L465.92 77.1L466.11 78.71L466.27 80.31L466.42 81.92L466.56 83.66L466.68 85.4L466.78 87.14L466.87 88.96L466.93 90.78L466.98 92.6L467.01 94.45L467.02 96.3L467.01 98.14L467 99.96L466.96 101.78L466.9 103.6L466.84 105.44L466.75 107.27L466.64 109.1L466.55 110.52L466.44 111.94L466.32 113.36L466.19 114.78L466.05 116.22L465.9 117.66L465.73 119.1L465.55 120.53L465.36 121.95L465.17 123.38L464.96 124.8L464.73 126.22L464.43 128.06L464.11 129.89L463.77 131.73L463.44 133.47L463.09 135.21L462.72 136.95L462.36 138.63L461.98 140.3L461.58 141.97L461.18 143.61L460.77 145.25L460.34 146.89L459.91 148.47L459.47 150.06L459.02 151.64L458.58 153.14L458.12 154.64L457.65 156.13L457.21 157.53L456.75 158.92L456.28 160.31L455.63 162.21L454.95 164.09L454.34 165.78L453.72 167.45L453.17 168.95L452.6 170.44L452.09 171.79L451.57 173.13L450.6 175.6L449.65 177.9L448.7 180.1L447.73 182.24L446.76 184.29L445.85 186.18L445.02 187.84L444.32 189.22L443.78 190.25" fill="none" stroke="#000" stroke-width="0.6" stroke-opacity="0.55"/>
<path d="M156.78 150.64L156.93 151.35L157.07 152.17L157.27 153.22L157.61 154.63L158.16 156.52L159.02 159L159.66 160.66L160.32 162.31L160.9 163.67L161.49 165.03L162.09 166.38L162.79 167.88L163.5 169.38L164.22 170.87L164.99 172.39L165.77 173.91L166.57 175.42L167.35 176.87L168.15 178.31L168.95 179.74L169.68 181L170.41 182.26L171.15 183.51L172.15 185.19L173.18 186.86L174.18 188.46L175.19 190.05L176.17 191.54L177.16 193.03L178.08 194.41L179.03 195.78L179.88 197.02L180.75 198.26L182.3 200.45L183.6 202.29L184.66 203.83L185.52 205.13L186.26 206.29L186.91 207.36L187.56 208.43L188.18 209.49L188.72 210.49L189.18 211.42L189.56 212.26L189.86 213.01L190.08 213.66L190.24 214.21L190.32 214.66L190.31 215.03L190.22 215.31L190.03 215.49L189.74 215.58L189.35 215.56L188.84 215.46L188.25 215.25L187.57 214.94L186.8 214.53L185.97 214.02L185.05 213.39L184.03 212.63L182.94 211.75L181.8 210.79L180.63 209.76L179.46 208.7L178.18 207.47L176.77 206.03L175.33 204.53L174 203.08L172.89 201.84L172.1 200.95" fill="none" stroke="#000" stroke-width="0.6" stroke-opacity="0.55"/>
<path d="M455.21 153.41L455.05 154.14L454.88 154.98L454.64 156.07L454.26 157.52L453.64 159.46L452.7 162.01L452 163.72L451.28 165.41L450.65 166.81L450 168.21L449.34 169.59L448.59 171.13L447.82 172.66L447.03 174.18L446.2 175.75L445.35 177.3L444.48 178.84L443.63 180.32L442.77 181.79L441.9 183.25L441.11 184.54L440.32 185.82L439.51 187.1L438.43 188.81L437.32 190.51L436.23 192.14L435.13 193.75L434.08 195.27L433.01 196.77L432 198.17L430.98 199.56L430.05 200.82L429.11 202.07L427.43 204.28L426.02 206.15L424.87 207.7L423.92 209.02L423.12 210.18L422.39 211.26L421.68 212.34L421 213.42L420.4 214.42L419.88 215.36L419.45 216.21L419.1 216.97L418.84 217.62L418.65 218.18L418.55 218.64L418.53 219.02L418.61 219.3L418.79 219.49L419.08 219.58L419.49 219.57L420 219.47L420.62 219.27L421.33 218.97L422.13 218.57L423.01 218.06L423.98 217.43L425.05 216.67L426.21 215.8L427.42 214.84L428.65 213.81L429.9 212.74L431.26 211.51L432.77 210.06L434.3 208.54L435.72 207.09L436.91 205.83L437.75 204.93" fill="none" stroke="#000" stroke-width="0.6" stroke-opacity="0.55"/>
<path d="M199.79 215.47L199.97 215.77L200.15 216.13L200.4 216.58L200.77 217.15L201.33 217.87L202.15 218.76L203.33 219.9L204.84 221.27L206.56 222.76L208.37 224.27L210.11 225.71L211.66 226.99L213.04 228.14L214.37 229.25L215.63 230.3L216.81 231.29L217.87 232.19L218.8 233.01L219.56 233.73L220.17 234.36L220.66 234.91L221.07 235.43L221.43 235.93L221.78 236.43L222.11 236.95L222.38 237.47L222.61 237.97L222.79 238.44L222.93 238.88L223.02 239.28L223.08 239.64L223.09 239.96L223.06 240.24L222.98 240.5L222.84 240.72L222.65 240.92L222.4 241.09L222.09 241.22L221.72 241.33L221.31 241.4L220.85 241.43L220.35 241.42L219.8 241.35L219.2 241.24L218.55 241.08L217.87 240.89L217.17 240.67L216.47 240.43L215.7 240.14L214.84 239.77L213.96 239.38L213.13 239L212.44 238.66L211.94 238.43" fill="none" stroke="#000" stroke-width="0.6" stroke-opacity="0.55"/>
<path d="M411.19 217.27L410.99 217.58L410.78 217.96L410.49 218.43L410.07 219.03L409.44 219.79L408.54 220.72L407.24 221.92L405.58 223.35L403.68 224.92L401.7 226.5L399.78 228L398.07 229.33L396.55 230.52L395.07 231.67L393.68 232.76L392.38 233.78L391.2 234.71L390.17 235.55L389.31 236.29L388.62 236.93L388.07 237.5L387.6 238.02L387.19 238.53L386.79 239.05L386.41 239.58L386.08 240.1L385.81 240.61L385.59 241.1L385.41 241.55L385.28 241.95L385.2 242.31L385.16 242.64L385.18 242.93L385.25 243.19L385.38 243.42L385.57 243.62L385.82 243.79L386.14 243.93L386.52 244.04L386.95 244.11L387.44 244.14L387.96 244.13L388.55 244.06L389.19 243.95L389.89 243.79L390.62 243.59L391.37 243.37L392.13 243.12L392.97 242.82L393.9 242.44L394.85 242.03L395.75 241.64L396.51 241.3L397.05 241.05" fill="none" stroke="#000" stroke-width="0.6" stroke-opacity="0.55"/>
<path d="M244.42 244.05L246.22 246.19L247.57 247.73L248.95 249.26L250.03 250.44L251.13 251.61L252.25 252.77L253.38 253.92L254.53 255.06L255.69 256.2L257.22 257.66L258.78 259.1L260.95 261.06" fill="none" stroke="#000" stroke-width="0.6" stroke-opacity="0.55"/>
<path d="M366.97 244.73L364.98 246.9L363.49 248.48L361.97 250.04L360.78 251.23L359.57 252.41L358.35 253.59L357.1 254.75L355.84 255.91L354.56 257.06L352.88 258.52L351.17 259.98L348.79 261.93" fill="none" stroke="#000" stroke-width="0.6" stroke-opacity="0.55"/>
<path d="M273.81 253.3L274.67 254.2L275.9 255.46L277.37 256.93L278.94 258.47L280.48 259.92L281.83 261.14L283.03 262.21L284.24 263.25L285.38 264.21L286.41 265.06L287.28 265.76L287.94 266.28" fill="none" stroke="#000" stroke-width="0.6" stroke-opacity="0.55"/>
<path d="M336.57 253.82L335.69 254.71L334.42 255.96L332.91 257.41L331.29 258.92L329.7 260.34L328.32 261.55L327.09 262.6L325.86 263.61L324.7 264.55L323.65 265.38L322.76 266.07L322.1 266.58" fill="none" stroke="#000" stroke-width="0.6" stroke-opacity="0.55"/>
<path d="M251.23 -53.85L249.86 -53.35L248.5 -52.83L247.14 -52.3L245.79 -51.76L244.44 -51.21L243.09 -50.64L241.75 -50.06L240.42 -49.47L239.09 -48.87L237.78 -48.26L236.47 -47.64L235.17 -47.01L233.87 -46.36L232.58 -45.7L231.29 -45.04L230.01 -44.36L228.74 -43.66L227.47 -42.96L226.21 -42.25L224.95 -41.52L223.7 -40.79L222.46 -40.04L221.21 -39.27L219.97 -38.49L218.74 -37.7L217.51 -36.9L216.29 -36.09L215.08 -35.27L213.88 -34.43L212.68 -33.59L211.49 -32.73L210.31 -31.87L209.13 -30.99L207.97 -30.1L206.81 -29.2L205.66 -28.29L204.52 -27.37L203.36 -26.42L202.21 -25.46L201.06 -24.48L199.93 -23.5L198.81 -22.5L197.69 -21.5L196.59 -20.48L195.49 -19.45L194.4 -18.42L193.33 -17.37L192.26 -16.32L191.2 -15.25L190.15 -14.17L189.12 -13.09L188.09 -11.99L187.1 -10.91L186.12 -9.83L185.15 -8.73L184.18 -7.63L183.23 -6.52L182.29 -5.4L181.36 -4.27L180.44 -3.13L179.53 -1.99L178.63 -0.83L177.74 0.33L176.86 1.5L175.99 2.68L175.13 3.86L174.3 5.04L173.48 6.23L172.66 7.42L171.86 8.62L171.07 9.82L170.29 11.03L169.52 12.25L168.76 13.48L168.01 14.71L167.28 15.95L166.55 17.2L165.78 18.56L165.02 19.92L164.28 21.29L163.55 22.67L162.83 24.06L162.13 25.45L161.44 26.85L160.75 28.29L160.08 29.74L159.42 31.19L158.77 32.65L158.14 34.12L157.57 35.49L157.02 36.87L156.47 38.25L155.94 39.64L155.38 41.14L154.84 42.65L154.31 44.16L153.82 45.61L153.34 47.05L152.88 48.5L152.35 50.17L151.84 51.84L151.35 53.51L150.96 54.88L150.58 56.25L150.21 57.62L149.85 59L149.41 60.73L148.98 62.47L148.58 64.22L148.2 65.89L147.84 67.57L147.5 69.25L147.19 70.88L146.89 72.52L146.61 74.16L146.35 75.77L146.11 77.39L145.88 79.02L145.68 80.64L145.49 82.27L145.32 83.9L145.17 85.5L145.04 87.11L144.93 88.72L144.84 90.28L144.77 91.84L144.71 93.4L144.67 94.93L144.65 96.47L144.64 98L144.64 99.53L144.65 101.07L144.68 102.6L144.72 104.16L144.78 105.72L144.84 107.28L144.92 108.9L145.01 110.51L145.12 112.12L145.24 113.82L145.37 115.52L145.53 117.22L145.71 119L145.9 120.78L146.12 122.55L146.35 124.35L146.6 126.15L146.87 127.95L147.15 129.71L147.45 131.48L147.77 133.24L148.09 134.93L148.42 136.61L148.77 138.29L149.11 139.84L149.45 141.38L149.81 142.93L150.15 144.35L150.5 145.78L150.86 147.2L151.38 149.21L151.92 151.23L152.44 153.12L152.98 155.02L153.5 156.79L154.05 158.57L154.56 160.22L155.1 161.88L155.61 163.41L156.13 164.95L156.63 166.36L157.14 167.77L158.1 170.36L158.99 172.71L159.81 174.86L160.53 176.81L161.14 178.58L161.59 180.17L161.88 181.57L162.05 182.79L162.14 183.83L162.2 184.68L162.29 185.34L162.29 185.34L161.53 184.08L160.78 182.8L160.04 181.53L159.32 180.24L158.61 178.95L157.9 177.66L157.21 176.35L156.53 175.05L155.87 173.73L155.21 172.41L154.56 171.09L153.93 169.75L153.31 168.42L152.7 167.08L152.1 165.73L151.52 164.38L150.94 163.02L150.38 161.66L149.83 160.29L149.29 158.92L148.76 157.54L148.25 156.16L147.75 154.77L147.26 153.38L146.78 151.99L146.31 150.59L145.86 149.19L145.42 147.78L144.99 146.37L144.57 144.95L144.17 143.54L143.77 142.12L143.39 140.69L143.03 139.26L142.67 137.83L142.33 136.4L142 134.96L141.68 133.52L141.38 132.08L141.09 130.63L140.81 129.19L140.54 127.74L140.29 126.28L140.05 124.83L139.82 123.37L139.6 121.91L139.4 120.45L139.21 118.99L139.03 117.53L138.87 116.06L138.72 114.6L138.58 113.13L138.45 111.66L138.34 110.19L138.24 108.72L138.15 107.25L138.08 105.78L138.02 104.3L137.97 102.83L137.93 101.36L137.91 99.88L137.9 98.41L137.9 96.93L137.92 95.46L137.95 93.99L137.99 92.51L138.04 91.04L138.11 89.57L138.19 88.09L138.28 86.62L138.39 85.15L138.51 83.68L138.64 82.21L138.79 80.75L138.94 79.28L139.11 77.82L139.3 76.35L139.49 74.89L139.7 73.43L139.92 71.98L140.15 70.52L140.4 69.07L140.66 67.62L140.93 66.17L141.22 64.72L141.51 63.28L141.82 61.84L142.15 60.4L142.48 58.96L142.83 57.53L143.19 56.1L143.56 54.67L143.95 53.25L144.34 51.83L144.75 50.41L145.18 49L145.61 47.59L146.06 46.19L146.52 44.79L146.99 43.39L147.47 42L147.97 40.61L148.48 39.23L149 37.85L149.53 36.47L150.07 35.1L150.63 33.74L151.2 32.37L151.78 31.02L152.37 29.67L152.97 28.32L153.59 26.98L154.21 25.65L154.85 24.32L155.5 23L156.16 21.68L156.84 20.37L157.52 19.06L158.22 17.76L158.92 16.47L159.64 15.18L160.37 13.9L161.11 12.63L161.86 11.36L162.63 10.1L163.4 8.84L164.19 7.6L164.98 6.35L165.79 5.12L166.61 3.89L167.44 2.67L168.27 1.46L169.12 0.26L169.98 -0.94L170.85 -2.13L171.73 -3.31L172.63 -4.49L173.53 -5.65L174.44 -6.81L175.36 -7.96L176.29 -9.11L177.23 -10.24L178.18 -11.37L179.15 -12.48L180.12 -13.59L181.1 -14.69L182.09 -15.79L183.09 -16.87L184.1 -17.94L185.11 -19.01L186.14 -20.07L187.18 -21.12L188.22 -22.15L189.28 -23.18L190.34 -24.2L191.42 -25.21L192.5 -26.22L193.59 -27.21L194.69 -28.19L195.8 -29.16L196.91 -30.13L198.04 -31.08L199.17 -32.02L200.31 -32.96L201.46 -33.88L202.62 -34.79L203.78 -35.7L204.95 -36.59L206.14 -37.47L207.32 -38.35L208.52 -39.21L209.72 -40.06L210.93 -40.9L212.15 -41.73L213.38 -42.55L214.61 -43.36L215.85 -44.16L217.1 -44.94L218.35 -45.72L219.61 -46.49L220.88 -47.24L222.15 -47.98L223.43 -48.71L224.72 -49.44L226.01 -50.14L227.31 -50.84L228.61 -51.53L229.92 -52.21L231.24 -52.87L232.56 -53.52L233.89 -54.16L235.22 -54.79L236.56 -55.41L237.9 -56.01L239.25 -56.61L240.61 -57.19L241.97 -57.76L243.33 -58.32L244.7 -58.87L246.07 -59.4L247.45 -59.92L248.84 -60.43Z" fill="#22e614" stroke="#000" stroke-width="0.6" stroke-opacity="0.55"/>
<path d="M250.92 -54.7L249.55 -54.19L248.18 -53.67L246.81 -53.14L245.45 -52.6L244.09 -52.04L242.74 -51.47L241.39 -50.89L240.05 -50.29L238.72 -49.69L237.4 -49.07L236.08 -48.45L234.77 -47.81L233.46 -47.16L232.17 -46.5L230.87 -45.83L229.59 -45.14L228.3 -44.45L227.03 -43.74L225.76 -43.02L224.5 -42.29L223.25 -41.55L222 -40.8L220.74 -40.03L219.49 -39.25L218.25 -38.45L217.02 -37.65L215.79 -36.83L214.58 -36L213.36 -35.16L212.16 -34.31L210.97 -33.45L209.78 -32.58L208.6 -31.7L207.43 -30.8L206.26 -29.9L205.11 -28.99L203.96 -28.06L202.79 -27.1L201.64 -26.14L200.49 -25.16L199.35 -24.17L198.22 -23.16L197.09 -22.15L195.98 -21.13L194.88 -20.1L193.79 -19.06L192.71 -18L191.63 -16.94L190.57 -15.87L189.52 -14.79L188.47 -13.7L187.44 -12.59L186.44 -11.51L185.46 -10.42L184.48 -9.32L183.51 -8.21L182.56 -7.09L181.61 -5.97L180.67 -4.83L179.75 -3.69L178.83 -2.53L177.93 -1.37L177.03 -0.21L176.15 0.97L175.27 2.16L174.41 3.35L173.57 4.53L172.74 5.72L171.93 6.92L171.12 8.12L170.32 9.33L169.54 10.55L168.76 11.78L168 13.01L167.24 14.25L166.5 15.5L165.77 16.75L164.99 18.11L164.23 19.48L163.48 20.86L162.74 22.25L162.02 23.64L161.31 25.04L160.61 26.44L159.91 27.89L159.22 29.34L158.55 30.8L157.9 32.27L157.26 33.74L156.68 35.11L156.1 36.5L155.55 37.88L155 39.28L154.43 40.78L153.87 42.3L153.32 43.81L152.82 45.26L152.33 46.71L151.85 48.17L151.31 49.84L150.79 51.52L150.29 53.21L149.9 54.58L149.52 55.96L149.14 57.35L148.78 58.73L148.34 60.48L147.92 62.23L147.52 63.99L147.15 65.68L146.8 67.37L146.47 69.06L146.16 70.71L145.87 72.35L145.6 74.01L145.34 75.63L145.11 77.26L144.88 78.9L144.68 80.53L144.49 82.17L144.32 83.81L144.17 85.45L144.03 87.09L143.91 88.73L143.81 90.34L143.73 91.96L143.66 93.58L143.61 95.17L143.58 96.76L143.56 98.36L143.55 99.92L143.55 101.49L143.57 103.06L143.6 104.6L143.64 106.14L143.7 107.68L143.76 109.19L143.83 110.71L143.92 112.22L144.01 113.73L144.11 115.24L144.23 116.75L144.35 118.26L144.49 119.77L144.64 121.28L144.79 122.76L144.96 124.25L145.14 125.73L145.32 127.16L145.51 128.58L145.71 130.01L146.01 132.03L146.34 134.05L146.65 135.91L146.98 137.77L147.29 139.46L147.61 141.14L147.9 142.68L148.2 144.22L148.48 145.65L148.77 147.07L149.33 149.74L149.9 152.29L150.51 154.78L151.15 157.21L151.79 159.56L152.42 161.78L153.04 163.85L153.63 165.74L154.17 167.42L154.67 168.88L155.11 170.16L155.5 171.26L155.83 172.19L156.11 172.94L156.32 173.53L156.32 173.53L155.67 172.21L155.03 170.89L154.39 169.57L153.77 168.23L153.17 166.89L152.57 165.55L151.98 164.2L151.41 162.85L150.85 161.49L150.3 160.13L149.76 158.76L149.24 157.38L148.73 156.01L148.22 154.63L147.74 153.24L147.26 151.85L146.79 150.45L146.34 149.06L145.9 147.65L145.47 146.25L145.06 144.84L144.65 143.42L144.26 142.01L143.88 140.59L143.52 139.16L143.16 137.74L142.82 136.31L142.49 134.87L142.18 133.44L141.87 132L141.58 130.56L141.3 129.11L141.04 127.67L140.79 126.22L140.55 124.77L140.32 123.32L140.1 121.86L139.9 120.41L139.71 118.95L139.53 117.49L139.37 116.03L139.22 114.57L139.08 113.11L138.95 111.64L138.84 110.17L138.74 108.71L138.65 107.24L138.58 105.77L138.52 104.3L138.47 102.83L138.43 101.37L138.41 99.9L138.4 98.43L138.4 96.96L138.42 95.49L138.45 94.02L138.49 92.55L138.54 91.08L138.61 89.61L138.69 88.14L138.78 86.67L138.89 85.21L139.01 83.74L139.14 82.28L139.28 80.82L139.44 79.35L139.61 77.89L139.79 76.44L139.98 74.98L140.19 73.52L140.41 72.07L140.65 70.62L140.89 69.17L141.15 67.72L141.42 66.28L141.7 64.83L142 63.4L142.31 61.96L142.63 60.52L142.96 59.09L143.31 57.66L143.67 56.24L144.04 54.82L144.43 53.4L144.82 51.98L145.23 50.57L145.65 49.16L146.08 47.76L146.53 46.36L146.99 44.96L147.46 43.57L147.94 42.18L148.43 40.79L148.94 39.41L149.46 38.04L149.99 36.67L150.53 35.3L151.09 33.94L151.65 32.58L152.23 31.23L152.82 29.88L153.42 28.54L154.03 27.21L154.66 25.88L155.3 24.55L155.94 23.23L156.6 21.92L157.27 20.61L157.96 19.31L158.65 18.01L159.36 16.72L160.07 15.44L160.8 14.16L161.54 12.89L162.29 11.63L163.05 10.37L163.82 9.12L164.6 7.87L165.4 6.63L166.2 5.4L167.02 4.18L167.84 2.97L168.68 1.76L169.53 0.55L170.38 -0.64L171.25 -1.83L172.13 -3L173.02 -4.18L173.92 -5.34L174.82 -6.49L175.74 -7.64L176.67 -8.78L177.61 -9.91L178.56 -11.04L179.52 -12.15L180.49 -13.26L181.46 -14.35L182.45 -15.44L183.45 -16.52L184.45 -17.6L185.47 -18.66L186.49 -19.71L187.53 -20.76L188.57 -21.79L189.62 -22.82L190.68 -23.84L191.75 -24.85L192.83 -25.84L193.92 -26.83L195.02 -27.81L196.12 -28.78L197.23 -29.74L198.35 -30.69L199.48 -31.63L200.62 -32.57L201.77 -33.49L202.92 -34.4L204.08 -35.3L205.25 -36.19L206.43 -37.07L207.61 -37.94L208.81 -38.8L210.01 -39.65L211.21 -40.49L212.43 -41.31L213.65 -42.13L214.88 -42.94L216.12 -43.73L217.36 -44.52L218.61 -45.29L219.86 -46.06L221.13 -46.81L222.4 -47.55L223.67 -48.28L224.96 -49L226.24 -49.7L227.54 -50.4L228.84 -51.09L230.15 -51.76L231.46 -52.42L232.78 -53.07L234.1 -53.71L235.43 -54.34L236.77 -54.95L238.11 -55.56L239.45 -56.15L240.8 -56.73L242.16 -57.3L243.52 -57.86L244.88 -58.4L246.25 -58.93L247.63 -59.45L249.01 -59.96Z" fill="#00d42c" stroke="#000" stroke-width="0.6" stroke-opacity="0.6"/>
<path d="M250.65 -55.45L249.3 -54.95L247.95 -54.44L246.61 -53.92L245.28 -53.39L243.94 -52.84L242.62 -52.28L241.3 -51.71L239.98 -51.13L238.61 -50.52L237.26 -49.89L235.9 -49.25L234.56 -48.59L233.22 -47.93L231.88 -47.25L230.56 -46.56L229.24 -45.86L227.92 -45.14L226.61 -44.42L225.31 -43.68L224.03 -42.94L222.76 -42.18L221.49 -41.42L220.23 -40.64L218.98 -39.86L217.74 -39.06L216.5 -38.25L215.27 -37.43L214.04 -36.59L212.83 -35.75L211.62 -34.9L210.42 -34.03L209.23 -33.15L208.01 -32.24L206.8 -31.31L205.59 -30.38L204.4 -29.43L203.21 -28.47L202.04 -27.5L200.87 -26.52L199.71 -25.53L198.56 -24.52L197.42 -23.51L196.29 -22.49L195.17 -21.45L194.06 -20.41L192.97 -19.35L191.88 -18.29L190.8 -17.22L189.73 -16.14L188.68 -15.05L187.63 -13.95L186.59 -12.83L185.56 -11.71L184.55 -10.58L183.54 -9.44L182.55 -8.29L181.56 -7.14L180.63 -6.03L179.72 -4.91L178.81 -3.78L177.91 -2.64L177.02 -1.5L176.14 -0.35L175.27 0.81L174.42 1.98L173.57 3.15L172.73 4.33L171.87 5.58L171.02 6.83L170.17 8.08L169.35 9.35L168.53 10.62L167.72 11.9L166.93 13.19L166.06 14.63L165.2 16.08L164.36 17.54L163.54 19L162.73 20.48L161.92 21.98L161.13 23.49L160.35 25.02L159.59 26.54L158.95 27.86L158.32 29.17L157.7 30.5L157.09 31.83L156.36 33.49L155.63 35.15L154.93 36.83L154.22 38.57L153.53 40.32L152.86 42.08L152.21 43.85L151.57 45.62L150.96 47.4L150.42 49.02L149.89 50.65L149.38 52.29L148.92 53.8L148.48 55.32L148.05 56.84L147.65 58.27L147.27 59.71L146.9 61.15L146.55 62.55L146.21 63.94L145.89 65.34L145.43 67.43L144.99 69.52L144.58 71.59L144.2 73.66L143.86 75.66L143.53 77.67L143.24 79.6L142.97 81.53L142.73 83.39L142.5 85.25L142.3 87.04L142.12 88.83L141.95 90.54L141.8 92.25L141.66 93.87L141.54 95.49L141.43 97.01L141.33 98.53L141.24 99.98L141.16 101.43L141.03 104.21L140.94 106.91L140.9 109.58L140.9 112.27L140.93 114.95L140.99 117.55L141.09 120.01L141.21 122.23L141.36 124.16L141.52 125.77L141.68 127.13L141.83 128.26L141.97 129.19L142.1 129.94L142.19 130.53L142.19 130.53L141.91 129.1L141.65 127.65L141.39 126.21L141.15 124.77L140.92 123.32L140.71 121.87L140.51 120.42L140.32 118.96L140.14 117.51L139.98 116.05L139.82 114.6L139.69 113.14L139.56 111.68L139.45 110.22L139.35 108.76L139.26 107.29L139.18 105.83L139.12 104.37L139.07 102.9L139.04 101.44L139.01 99.97L139 98.51L139 97.04L139.02 95.57L139.05 94.11L139.09 92.64L139.14 91.18L139.2 89.72L139.28 88.25L139.38 86.79L139.48 85.33L139.6 83.87L139.73 82.41L139.87 80.95L140.03 79.49L140.19 78.04L140.37 76.58L140.57 75.13L140.77 73.68L140.99 72.23L141.23 70.79L141.47 69.34L141.73 67.9L142 66.46L142.28 65.02L142.57 63.58L142.88 62.15L143.2 60.72L143.53 59.29L143.88 57.87L144.24 56.45L144.61 55.03L144.99 53.62L145.38 52.21L145.79 50.8L146.21 49.39L146.64 47.99L147.08 46.6L147.54 45.2L148.01 43.82L148.49 42.43L148.98 41.05L149.48 39.68L150 38.3L150.53 36.94L151.07 35.57L151.62 34.22L152.18 32.86L152.76 31.52L153.35 30.18L153.95 28.84L154.56 27.51L155.18 26.18L155.81 24.86L156.46 23.54L157.12 22.23L157.78 20.93L158.46 19.63L159.16 18.34L159.86 17.05L160.57 15.77L161.3 14.5L162.03 13.23L162.78 11.97L163.54 10.72L164.31 9.47L165.09 8.23L165.88 7L166.68 5.77L167.49 4.55L168.31 3.34L169.15 2.13L169.99 0.94L170.85 -0.26L171.71 -1.44L172.59 -2.61L173.47 -3.78L174.37 -4.94L175.27 -6.09L176.19 -7.24L177.11 -8.37L178.05 -9.5L178.99 -10.62L179.95 -11.73L180.91 -12.83L181.89 -13.93L182.87 -15.01L183.87 -16.09L184.87 -17.16L185.88 -18.22L186.9 -19.27L187.93 -20.31L188.97 -21.35L190.02 -22.37L191.08 -23.38L192.14 -24.39L193.22 -25.38L194.3 -26.37L195.39 -27.35L196.5 -28.31L197.6 -29.27L198.72 -30.22L199.85 -31.16L200.98 -32.09L202.12 -33L203.27 -33.91L204.43 -34.81L205.6 -35.7L206.77 -36.58L207.95 -37.44L209.14 -38.3L210.34 -39.15L211.54 -39.98L212.75 -40.81L213.97 -41.62L215.19 -42.43L216.43 -43.22L217.67 -44L218.91 -44.77L220.16 -45.53L221.42 -46.28L222.69 -47.02L223.96 -47.75L225.24 -48.47L226.52 -49.17L227.81 -49.87L229.11 -50.55L230.41 -51.22L231.72 -51.88L233.03 -52.53L234.35 -53.17L235.68 -53.79L237.01 -54.41L238.35 -55.01L239.69 -55.6L241.03 -56.18L242.38 -56.74L243.74 -57.3L245.1 -57.84L246.47 -58.37L247.84 -58.89L249.21 -59.4Z" fill="#00a23c" stroke="#000" stroke-width="0.6" stroke-opacity="0.55"/>
<path d="M250.37 -56.2L248.95 -55.68L247.54 -55.14L246.13 -54.59L244.72 -54.03L243.32 -53.45L241.93 -52.86L240.54 -52.26L239.15 -51.64L237.77 -51.01L236.4 -50.37L235.03 -49.71L233.67 -49.04L232.31 -48.36L230.96 -47.67L229.62 -46.96L228.28 -46.25L226.95 -45.52L225.66 -44.79L224.38 -44.06L223.1 -43.31L221.84 -42.56L220.57 -41.79L219.32 -41.01L218.07 -40.22L216.83 -39.42L215.6 -38.6L214.38 -37.78L213.16 -36.94L211.95 -36.1L210.71 -35.22L209.48 -34.32L208.26 -33.42L207.05 -32.5L205.84 -31.58L204.65 -30.64L203.46 -29.69L202.28 -28.73L201.11 -27.76L199.95 -26.78L198.8 -25.78L197.66 -24.78L196.53 -23.77L195.4 -22.74L194.29 -21.71L193.18 -20.67L192.09 -19.61L191 -18.55L189.93 -17.47L188.86 -16.39L187.81 -15.29L186.76 -14.19L185.73 -13.07L184.74 -11.99L183.76 -10.9L182.79 -9.8L181.83 -8.69L180.88 -7.58L179.94 -6.45L179.02 -5.32L178.1 -4.18L177.19 -3.03L176.22 -1.78L175.26 -0.53L174.31 0.74L173.37 2.02L172.45 3.3L171.54 4.59L170.7 5.81L169.87 7.03L169.05 8.26L168.24 9.49L167.45 10.74L166.66 11.98L165.89 13.22L165.13 14.48L164.38 15.74L163.54 17.16L162.72 18.6L161.91 20.04L161.17 21.39L160.43 22.76L159.71 24.12L158.96 25.58L158.23 27.05L157.5 28.52L156.78 30.04L156.07 31.56L155.37 33.09L154.74 34.5L154.13 35.92L153.52 37.34L152.97 38.67L152.42 40L151.89 41.34L151.15 43.25L150.43 45.16L149.76 47.01L149.11 48.86L148.49 50.69L147.89 52.52L147.32 54.31L146.77 56.11L146.25 57.84L145.75 59.57L145.28 61.23L144.84 62.9L144.42 64.49L144.02 66.09L143.64 67.61L143.29 69.14L142.96 70.59L142.64 72.05L142.06 74.84L141.54 77.51L141.07 80.03L140.68 82.37L140.35 84.49L140.11 86.36L139.94 87.97L139.83 89.33L139.76 90.47L139.73 91.4L139.7 92.16L139.68 92.76L139.68 92.76L139.73 91.3L139.8 89.84L139.88 88.38L139.97 86.92L140.07 85.46L140.19 84.01L140.32 82.55L140.46 81.1L140.61 79.65L140.78 78.2L140.96 76.75L141.15 75.3L141.36 73.85L141.57 72.41L141.8 70.96L142.05 69.52L142.3 68.09L142.57 66.65L142.85 65.22L143.14 63.79L143.45 62.36L143.77 60.93L144.1 59.51L144.44 58.09L144.8 56.67L145.17 55.26L145.55 53.85L145.94 52.44L146.34 51.04L146.76 49.64L147.19 48.24L147.63 46.85L148.09 45.46L148.55 44.08L149.03 42.7L149.52 41.32L150.02 39.95L150.54 38.58L151.06 37.22L151.6 35.86L152.15 34.51L152.71 33.16L153.28 31.81L153.87 30.48L154.47 29.14L155.07 27.81L155.69 26.49L156.33 25.17L156.97 23.86L157.62 22.56L158.29 21.26L158.97 19.96L159.66 18.67L160.36 17.39L161.07 16.12L161.79 14.85L162.52 13.58L163.27 12.33L164.02 11.08L164.79 9.83L165.57 8.6L166.35 7.37L167.15 6.14L167.96 4.93L168.78 3.72L169.61 2.52L170.45 1.32L171.3 0.13L172.17 -1.05L173.04 -2.22L173.92 -3.38L174.81 -4.54L175.71 -5.69L176.63 -6.83L177.55 -7.96L178.48 -9.08L179.42 -10.2L180.38 -11.31L181.34 -12.41L182.31 -13.5L183.29 -14.58L184.28 -15.66L185.28 -16.72L186.29 -17.78L187.31 -18.83L188.33 -19.86L189.37 -20.89L190.41 -21.91L191.47 -22.93L192.53 -23.93L193.6 -24.92L194.68 -25.9L195.77 -26.88L196.87 -27.84L197.97 -28.8L199.09 -29.74L200.21 -30.68L201.34 -31.6L202.48 -32.52L203.62 -33.42L204.78 -34.32L205.94 -35.2L207.11 -36.08L208.29 -36.94L209.47 -37.8L210.66 -38.64L211.86 -39.48L213.07 -40.3L214.29 -41.11L215.51 -41.91L216.73 -42.7L217.97 -43.48L219.21 -44.25L220.46 -45.01L221.71 -45.76L222.98 -46.5L224.24 -47.22L225.52 -47.94L226.8 -48.64L228.08 -49.33L229.38 -50.01L230.68 -50.68L231.98 -51.34L233.29 -51.99L234.61 -52.62L235.93 -53.24L237.25 -53.86L238.58 -54.46L239.92 -55.05L241.26 -55.62L242.61 -56.19L243.96 -56.74L245.32 -57.28L246.68 -57.81L248.05 -58.33L249.42 -58.83Z" fill="#00583a" stroke="#000" stroke-width="0.6" stroke-opacity="0.5"/>
<path d="M223.7 -45.41L222.45 -44.69L221.21 -43.95L219.97 -43.2L218.75 -42.44L217.52 -41.67L216.31 -40.88L215.1 -40.09L213.9 -39.29L212.7 -38.48L211.52 -37.65L210.34 -36.82L209.16 -35.97L208 -35.12L206.84 -34.25L205.69 -33.38L204.55 -32.49L203.41 -31.6L202.28 -30.7L201.17 -29.78L200.05 -28.86L198.95 -27.92L197.86 -26.98L196.77 -26.03L195.69 -25.06L194.62 -24.09L193.56 -23.11L192.51 -22.12L191.46 -21.12L190.43 -20.11L189.4 -19.1L188.39 -18.07L187.38 -17.04L186.38 -15.99L185.39 -14.94L184.41 -13.88L183.44 -12.81L182.47 -11.73L181.52 -10.64L180.58 -9.55L179.64 -8.45L178.72 -7.33L177.8 -6.22L176.9 -5.09L176.01 -3.95L175.12 -2.81L174.25 -1.66L173.38 -0.5L172.53 0.66L171.68 1.84L170.85 3.02L170.02 4.2L169.21 5.4L168.41 6.6L167.62 7.81L166.83 9.02L166.06 10.25L165.3 11.47L164.55 12.71L163.81 13.95L163.09 15.2L162.37 16.45L161.66 17.72L160.97 18.98L160.28 20.26L159.61 21.53L158.95 22.82L158.3 24.11L157.66 25.41L157.03 26.71L156.42 28.01L155.81 29.33L155.22 30.64L154.63 31.97L154.06 33.29L153.51 34.63L152.96 35.97L152.42 37.31L151.9 38.65L151.39 40.01L150.89 41.36L150.4 42.72L149.92 44.09L149.46 45.45L149.01 46.83L148.56 48.2L148.14 49.58L147.72 50.97L147.32 52.35L146.92 53.75L146.54 55.14L146.17 56.54L145.82 57.94" fill="none" stroke="#10e070" stroke-width="0.9" stroke-dasharray="1.2 2.6" stroke-opacity="0.85"/>
<path d="M361.77 -53.85L363.14 -53.35L364.5 -52.83L365.86 -52.3L367.21 -51.76L368.56 -51.21L369.91 -50.64L371.25 -50.06L372.58 -49.47L373.91 -48.87L375.22 -48.26L376.53 -47.64L377.83 -47.01L379.13 -46.36L380.42 -45.7L381.71 -45.04L382.99 -44.36L384.26 -43.66L385.53 -42.96L386.79 -42.25L388.05 -41.52L389.3 -40.79L390.54 -40.04L391.79 -39.27L393.03 -38.49L394.26 -37.7L395.49 -36.9L396.71 -36.09L397.92 -35.27L399.12 -34.43L400.32 -33.59L401.51 -32.73L402.69 -31.87L403.87 -30.99L405.03 -30.1L406.19 -29.2L407.34 -28.29L408.48 -27.37L409.64 -26.42L410.79 -25.46L411.94 -24.48L413.07 -23.5L414.19 -22.5L415.31 -21.5L416.41 -20.48L417.51 -19.45L418.6 -18.42L419.67 -17.37L420.74 -16.32L421.8 -15.25L422.85 -14.17L423.88 -13.09L424.91 -11.99L425.9 -10.91L426.88 -9.83L427.85 -8.73L428.82 -7.63L429.77 -6.52L430.71 -5.4L431.64 -4.27L432.56 -3.13L433.47 -1.99L434.37 -0.83L435.26 0.33L436.14 1.5L437.01 2.68L437.87 3.86L438.7 5.04L439.52 6.23L440.34 7.42L441.14 8.62L441.93 9.82L442.71 11.03L443.48 12.25L444.24 13.48L444.99 14.71L445.72 15.95L446.45 17.2L447.22 18.56L447.98 19.92L448.72 21.29L449.45 22.67L450.17 24.06L450.87 25.45L451.56 26.85L452.25 28.29L452.92 29.74L453.58 31.19L454.23 32.65L454.86 34.12L455.43 35.49L455.98 36.87L456.53 38.25L457.06 39.64L457.62 41.14L458.16 42.65L458.69 44.16L459.18 45.61L459.66 47.05L460.12 48.5L460.65 50.17L461.16 51.84L461.65 53.51L462.04 54.88L462.42 56.25L462.79 57.62L463.15 59L463.59 60.73L464.02 62.47L464.42 64.22L464.8 65.89L465.16 67.57L465.5 69.25L465.81 70.88L466.11 72.52L466.39 74.16L466.65 75.77L466.89 77.39L467.12 79.02L467.32 80.64L467.51 82.27L467.68 83.9L467.83 85.47L467.95 87.05L468.06 88.62L468.15 90.11L468.22 91.6L468.28 93.08L468.32 94.55L468.35 96.01L468.36 97.47L468.37 98.97L468.36 100.47L468.33 101.98L468.3 103.58L468.25 105.19L468.18 106.79L468.1 108.57L468 110.35L467.88 112.12L467.77 113.65L467.64 115.18L467.5 116.71L467.35 118.24L467.16 119.94L466.95 121.64L466.73 123.34L466.48 125.04L466.27 126.46L466.04 127.87L465.8 129.29L465.55 130.7L465.29 132.11L465.02 133.51L464.74 134.9L464.45 136.29L464.14 137.68L463.82 139.07L463.44 140.68L463.05 142.29L462.63 143.9L462.2 145.51L461.83 146.9L461.44 148.29L461.03 149.68L460.62 151.07L460.16 152.63L459.67 154.19L459.18 155.74L458.75 157.11L458.3 158.47L457.85 159.83L457.24 161.65L456.61 163.46L456.03 165.11L455.44 166.75L454.88 168.28L454.31 169.8L453.74 171.27L453.16 172.73L452.59 174.11L452.01 175.5L450.91 178.03L449.9 180.33L448.97 182.43L448.15 184.34L447.45 186.07L446.91 187.64L446.55 189.03L446.32 190.24L446.17 191.27L446.06 192.11L445.95 192.77L445.95 192.77L446.77 191.54L447.58 190.31L448.38 189.08L449.17 187.83L449.95 186.58L450.72 185.32L451.48 184.06L452.23 182.79L452.96 181.51L453.69 180.23L454.4 178.94L455.1 177.64L455.79 176.34L456.47 175.03L457.14 173.72L457.8 172.4L458.44 171.07L459.08 169.74L459.7 168.4L460.31 167.06L460.9 165.71L461.49 164.36L462.07 163L462.63 161.64L463.18 160.27L463.72 158.9L464.24 157.52L464.76 156.14L465.26 154.76L465.75 153.37L466.23 151.97L466.69 150.57L467.15 149.17L467.59 147.76L468.02 146.35L468.43 144.94L468.84 143.52L469.23 142.1L469.61 140.68L469.98 139.25L470.33 137.82L470.67 136.38L471 134.95L471.32 133.51L471.62 132.07L471.91 130.62L472.19 129.17L472.46 127.72L472.71 126.27L472.95 124.82L473.18 123.36L473.4 121.9L473.6 120.44L473.79 118.98L473.97 117.52L474.13 116.05L474.28 114.58L474.42 113.12L474.55 111.65L474.66 110.18L474.76 108.71L474.85 107.24L474.92 105.76L474.98 104.29L475.03 102.82L475.07 101.34L475.09 99.87L475.1 98.4L475.1 96.92L475.08 95.45L475.05 93.97L475.01 92.5L474.96 91.03L474.89 89.55L474.81 88.08L474.71 86.61L474.61 85.14L474.49 83.67L474.36 82.2L474.21 80.74L474.06 79.27L473.89 77.81L473.7 76.34L473.51 74.88L473.3 73.42L473.08 71.97L472.84 70.51L472.6 69.06L472.34 67.61L472.07 66.16L471.78 64.71L471.48 63.27L471.17 61.83L470.85 60.39L470.52 58.95L470.17 57.52L469.81 56.09L469.44 54.66L469.05 53.24L468.65 51.82L468.24 50.41L467.82 48.99L467.39 47.58L466.94 46.18L466.48 44.78L466.01 43.38L465.52 41.99L465.03 40.6L464.52 39.22L464 37.84L463.47 36.46L462.92 35.09L462.37 33.73L461.8 32.37L461.22 31.01L460.63 29.66L460.03 28.32L459.41 26.98L458.78 25.64L458.15 24.31L457.5 22.99L456.83 21.67L456.16 20.36L455.48 19.06L454.78 17.76L454.07 16.46L453.35 15.18L452.62 13.9L451.88 12.62L451.13 11.35L450.37 10.09L449.59 8.84L448.81 7.59L448.01 6.35L447.21 5.12L446.39 3.89L445.56 2.67L444.72 1.46L443.87 0.25L443.01 -0.94L442.14 -2.13L441.26 -3.32L440.37 -4.49L439.47 -5.66L438.56 -6.82L437.64 -7.97L436.71 -9.11L435.76 -10.24L434.81 -11.37L433.85 -12.49L432.88 -13.6L431.9 -14.7L430.91 -15.79L429.91 -16.87L428.9 -17.95L427.88 -19.01L426.86 -20.07L425.82 -21.12L424.77 -22.16L423.72 -23.19L422.65 -24.21L421.58 -25.22L420.5 -26.22L419.41 -27.21L418.31 -28.19L417.2 -29.17L416.09 -30.13L414.96 -31.08L413.83 -32.03L412.69 -32.96L411.54 -33.88L410.38 -34.8L409.22 -35.7L408.04 -36.59L406.86 -37.47L405.67 -38.35L404.48 -39.21L403.27 -40.06L402.06 -40.9L400.85 -41.73L399.62 -42.55L398.39 -43.36L397.15 -44.16L395.9 -44.94L394.65 -45.72L393.39 -46.49L392.12 -47.24L390.85 -47.98L389.57 -48.72L388.28 -49.44L386.99 -50.15L385.69 -50.84L384.39 -51.53L383.08 -52.21L381.76 -52.87L380.44 -53.52L379.11 -54.16L377.78 -54.79L376.44 -55.41L375.1 -56.01L373.75 -56.61L372.39 -57.19L371.03 -57.76L369.67 -58.32L368.3 -58.87L366.93 -59.4L365.55 -59.92L364.16 -60.43Z" fill="#22e614" stroke="#000" stroke-width="0.6" stroke-opacity="0.55"/>
<path d="M362.08 -54.7L363.45 -54.19L364.82 -53.67L366.19 -53.14L367.55 -52.6L368.91 -52.04L370.26 -51.47L371.61 -50.89L372.95 -50.29L374.28 -49.69L375.6 -49.07L376.92 -48.45L378.23 -47.81L379.54 -47.16L380.83 -46.5L382.13 -45.83L383.41 -45.14L384.7 -44.45L385.97 -43.74L387.24 -43.02L388.5 -42.29L389.75 -41.55L391 -40.8L392.26 -40.03L393.51 -39.25L394.75 -38.45L395.98 -37.65L397.21 -36.83L398.42 -36L399.64 -35.16L400.84 -34.31L402.03 -33.45L403.22 -32.58L404.4 -31.7L405.57 -30.8L406.74 -29.9L407.89 -28.99L409.04 -28.06L410.21 -27.1L411.36 -26.14L412.51 -25.16L413.65 -24.17L414.78 -23.16L415.91 -22.15L417.02 -21.13L418.12 -20.1L419.21 -19.06L420.29 -18L421.37 -16.94L422.43 -15.87L423.48 -14.79L424.53 -13.7L425.56 -12.59L426.56 -11.51L427.54 -10.42L428.52 -9.32L429.49 -8.21L430.44 -7.09L431.39 -5.97L432.33 -4.83L433.25 -3.69L434.17 -2.53L435.07 -1.37L435.97 -0.21L436.85 0.97L437.73 2.16L438.59 3.35L439.43 4.53L440.26 5.72L441.07 6.92L441.88 8.12L442.68 9.33L443.46 10.55L444.24 11.78L445 13.01L445.76 14.25L446.5 15.5L447.23 16.75L448.01 18.11L448.77 19.48L449.52 20.86L450.26 22.25L450.98 23.64L451.69 25.04L452.39 26.44L453.09 27.89L453.78 29.34L454.45 30.8L455.1 32.27L455.74 33.74L456.32 35.11L456.9 36.5L457.45 37.88L458 39.28L458.57 40.78L459.13 42.3L459.68 43.81L460.18 45.26L460.67 46.71L461.15 48.17L461.69 49.84L462.21 51.52L462.71 53.21L463.1 54.58L463.48 55.96L463.86 57.35L464.22 58.73L464.66 60.48L465.08 62.23L465.48 63.99L465.85 65.68L466.2 67.37L466.53 69.06L466.84 70.71L467.13 72.35L467.4 74.01L467.66 75.63L467.89 77.26L468.12 78.9L468.32 80.53L468.51 82.17L468.68 83.81L468.83 85.42L468.96 87.02L469.08 88.63L469.18 90.17L469.26 91.72L469.33 93.26L469.38 94.78L469.42 96.3L469.44 97.82L469.46 99.36L469.46 100.89L469.44 102.42L469.42 104.01L469.38 105.6L469.33 107.19L469.26 108.87L469.18 110.55L469.08 112.22L468.96 114.08L468.81 115.93L468.65 117.78L468.5 119.28L468.34 120.79L468.17 122.29L467.98 123.79L467.78 125.33L467.56 126.87L467.33 128.41L467.08 129.94L466.83 131.44L466.57 132.93L466.29 134.42L466 135.91L465.63 137.74L465.24 139.56L464.83 141.39L464.47 142.95L464.1 144.51L463.72 146.07L463.25 147.97L462.76 149.87L462.36 151.46L461.95 153.05L461.26 155.77L460.63 158.2L460 160.51L459.3 162.86L458.54 165.26L457.78 167.57L457.03 169.76L456.3 171.8L455.62 173.65L454.99 175.3L454.42 176.73L453.91 177.99L453.46 179.06L453.08 179.97L452.77 180.71L452.52 181.29L452.52 181.29L453.24 180.01L453.95 178.72L454.65 177.43L455.34 176.13L456.02 174.83L456.68 173.51L457.34 172.2L457.98 170.88L458.61 169.55L459.23 168.22L459.84 166.88L460.44 165.54L461.02 164.19L461.59 162.83L462.16 161.47L462.7 160.11L463.24 158.74L463.77 157.37L464.28 155.99L464.78 154.61L465.27 153.22L465.75 151.83L466.21 150.44L466.66 149.04L467.1 147.64L467.53 146.23L467.95 144.82L468.35 143.41L468.74 141.99L469.12 140.57L469.49 139.15L469.84 137.72L470.18 136.29L470.51 134.86L470.83 133.42L471.13 131.98L471.42 130.54L471.7 129.1L471.96 127.65L472.22 126.21L472.46 124.76L472.68 123.3L472.9 121.85L473.1 120.39L473.29 118.94L473.47 117.48L473.63 116.02L473.78 114.55L473.92 113.09L474.05 111.63L474.16 110.16L474.26 108.69L474.35 107.23L474.42 105.76L474.48 104.29L474.53 102.82L474.57 101.35L474.59 99.88L474.6 98.41L474.6 96.94L474.58 95.47L474.55 94L474.51 92.53L474.46 91.07L474.39 89.6L474.31 88.13L474.22 86.66L474.11 85.2L473.99 83.73L473.86 82.27L473.72 80.8L473.56 79.34L473.39 77.88L473.21 76.42L473.01 74.97L472.81 73.51L472.59 72.06L472.35 70.61L472.11 69.16L471.85 67.71L471.58 66.27L471.29 64.82L471 63.38L470.69 61.95L470.37 60.51L470.03 59.08L469.69 57.65L469.33 56.23L468.96 54.81L468.57 53.39L468.18 51.97L467.77 50.56L467.35 49.15L466.91 47.75L466.47 46.35L466.01 44.95L465.54 43.56L465.06 42.17L464.56 40.78L464.06 39.4L463.54 38.03L463.01 36.66L462.47 35.29L461.91 33.93L461.34 32.57L460.77 31.22L460.18 29.88L459.58 28.53L458.96 27.2L458.34 25.87L457.7 24.54L457.05 23.22L456.39 21.91L455.72 20.6L455.04 19.3L454.35 18L453.64 16.72L452.92 15.43L452.2 14.15L451.46 12.88L450.71 11.62L449.95 10.36L449.18 9.11L448.39 7.87L447.6 6.63L446.79 5.4L445.98 4.18L445.15 2.96L444.32 1.75L443.47 0.55L442.61 -0.64L441.75 -1.83L440.87 -3.01L439.98 -4.18L439.08 -5.34L438.17 -6.5L437.25 -7.65L436.32 -8.79L435.39 -9.92L434.44 -11.04L433.48 -12.15L432.51 -13.26L431.53 -14.36L430.55 -15.45L429.55 -16.53L428.54 -17.6L427.53 -18.66L426.5 -19.72L425.47 -20.76L424.43 -21.8L423.37 -22.82L422.31 -23.84L421.24 -24.85L420.16 -25.85L419.08 -26.84L417.98 -27.82L416.88 -28.79L415.76 -29.75L414.64 -30.7L413.51 -31.64L412.38 -32.57L411.23 -33.49L410.08 -34.4L408.91 -35.3L407.75 -36.19L406.57 -37.07L405.38 -37.94L404.19 -38.8L402.99 -39.65L401.78 -40.49L400.57 -41.32L399.35 -42.13L398.12 -42.94L396.88 -43.73L395.64 -44.52L394.39 -45.29L393.13 -46.06L391.87 -46.81L390.6 -47.55L389.33 -48.28L388.04 -49L386.75 -49.71L385.46 -50.4L384.16 -51.09L382.85 -51.76L381.54 -52.42L380.22 -53.07L378.9 -53.71L377.57 -54.34L376.23 -54.95L374.89 -55.56L373.55 -56.15L372.2 -56.73L370.84 -57.3L369.48 -57.86L368.12 -58.4L366.75 -58.93L365.37 -59.45L363.99 -59.96Z" fill="#00d42c" stroke="#000" stroke-width="0.6" stroke-opacity="0.6"/>
<path d="M362.35 -55.45L363.7 -54.95L365.05 -54.44L366.39 -53.92L367.72 -53.39L369.06 -52.84L370.38 -52.28L371.7 -51.71L373.02 -51.13L374.39 -50.52L375.74 -49.89L377.1 -49.25L378.44 -48.59L379.78 -47.93L381.12 -47.25L382.44 -46.56L383.76 -45.86L385.08 -45.14L386.39 -44.42L387.69 -43.68L388.97 -42.94L390.24 -42.18L391.51 -41.42L392.77 -40.64L394.02 -39.86L395.26 -39.06L396.5 -38.25L397.73 -37.43L398.96 -36.59L400.17 -35.75L401.38 -34.9L402.58 -34.03L403.77 -33.15L404.99 -32.24L406.2 -31.31L407.41 -30.38L408.6 -29.43L409.79 -28.47L410.96 -27.5L412.13 -26.52L413.29 -25.53L414.44 -24.52L415.58 -23.51L416.71 -22.49L417.83 -21.45L418.94 -20.41L420.03 -19.35L421.12 -18.29L422.2 -17.22L423.27 -16.14L424.32 -15.05L425.37 -13.95L426.41 -12.83L427.44 -11.71L428.45 -10.58L429.46 -9.44L430.45 -8.29L431.44 -7.14L432.37 -6.03L433.28 -4.91L434.19 -3.78L435.09 -2.64L435.98 -1.5L436.86 -0.35L437.73 0.81L438.58 1.98L439.43 3.15L440.27 4.33L441.13 5.58L441.98 6.83L442.83 8.08L443.65 9.35L444.47 10.62L445.28 11.9L446.07 13.19L446.94 14.63L447.8 16.08L448.64 17.54L449.46 19L450.27 20.48L451.08 21.98L451.87 23.49L452.65 25.02L453.41 26.54L454.05 27.86L454.68 29.17L455.3 30.5L455.91 31.83L456.64 33.49L457.37 35.15L458.07 36.83L458.78 38.57L459.47 40.32L460.14 42.08L460.78 43.81L461.4 45.56L462.01 47.31L462.53 48.86L463.04 50.42L463.53 51.98L463.97 53.42L464.4 54.87L464.82 56.32L465.21 57.72L465.59 59.13L465.96 60.53L466.32 61.97L466.67 63.41L467.01 64.86L467.36 66.41L467.69 67.96L468.01 69.52L468.34 71.24L468.65 72.96L468.95 74.69L469.24 76.52L469.51 78.36L469.76 80.2L470 82.07L470.21 83.94L470.4 85.82L470.58 87.65L470.73 89.47L470.86 91.3L470.97 93L471.06 94.7L471.13 96.4L471.19 97.89L471.24 99.38L471.27 100.88L471.32 102.75L471.34 104.62L471.37 106.22L471.38 107.82L471.39 110.62L471.39 113.18L471.35 115.66L471.26 118.23L471.12 120.91L470.95 123.59L470.76 126.19L470.53 128.63L470.29 130.85L470.05 132.76L469.81 134.37L469.57 135.72L469.36 136.84L469.17 137.75L469.01 138.5L468.88 139.09L468.88 139.09L469.24 137.67L469.58 136.24L469.9 134.81L470.22 133.38L470.52 131.95L470.81 130.51L471.09 129.08L471.36 127.63L471.61 126.19L471.85 124.75L472.08 123.3L472.29 121.85L472.5 120.4L472.69 118.94L472.86 117.49L473.03 116.03L473.18 114.58L473.32 113.12L473.44 111.66L473.56 110.2L473.66 108.74L473.74 107.27L473.82 105.81L473.88 104.35L473.93 102.88L473.97 101.42L473.99 99.95L474 98.49L474 97.02L473.98 95.56L473.95 94.09L473.91 92.63L473.86 91.16L473.79 89.7L473.72 88.24L473.62 86.77L473.52 85.31L473.4 83.85L473.27 82.39L473.13 80.93L472.97 79.48L472.8 78.02L472.62 76.57L472.43 75.12L472.22 73.67L472 72.22L471.77 70.77L471.53 69.33L471.27 67.88L471 66.44L470.72 65L470.42 63.57L470.12 62.14L469.8 60.71L469.46 59.28L469.12 57.86L468.76 56.44L468.39 55.02L468.01 53.6L467.61 52.19L467.21 50.78L466.79 49.38L466.36 47.98L465.91 46.58L465.46 45.19L464.99 43.8L464.51 42.42L464.02 41.04L463.51 39.66L463 38.29L462.47 36.93L461.93 35.56L461.38 34.21L460.81 32.85L460.24 31.51L459.65 30.16L459.05 28.83L458.44 27.5L457.82 26.17L457.18 24.85L456.54 23.53L455.88 22.22L455.21 20.92L454.53 19.62L453.84 18.33L453.14 17.04L452.42 15.76L451.7 14.49L450.96 13.22L450.22 11.96L449.46 10.71L448.69 9.46L447.91 8.22L447.12 6.99L446.32 5.76L445.5 4.54L444.68 3.33L443.85 2.13L443 0.93L442.15 -0.26L441.28 -1.45L440.41 -2.62L439.52 -3.79L438.63 -4.95L437.72 -6.1L436.81 -7.24L435.88 -8.38L434.95 -9.51L434 -10.63L433.05 -11.74L432.08 -12.84L431.11 -13.93L430.12 -15.02L429.13 -16.1L428.13 -17.17L427.12 -18.23L426.09 -19.28L425.06 -20.32L424.02 -21.35L422.98 -22.37L421.92 -23.39L420.85 -24.39L419.78 -25.39L418.69 -26.37L417.6 -27.35L416.5 -28.32L415.39 -29.28L414.27 -30.22L413.15 -31.16L412.01 -32.09L410.87 -33.01L409.72 -33.91L408.56 -34.81L407.4 -35.7L406.23 -36.58L405.04 -37.44L403.86 -38.3L402.66 -39.15L401.46 -39.98L400.25 -40.81L399.03 -41.62L397.8 -42.43L396.57 -43.22L395.33 -44L394.09 -44.78L392.83 -45.54L391.58 -46.29L390.31 -47.02L389.04 -47.75L387.76 -48.47L386.48 -49.17L385.19 -49.87L383.89 -50.55L382.59 -51.22L381.28 -51.88L379.96 -52.53L378.65 -53.17L377.32 -53.79L375.99 -54.41L374.65 -55.01L373.31 -55.6L371.97 -56.18L370.62 -56.74L369.26 -57.3L367.9 -57.84L366.53 -58.37L365.16 -58.89L363.79 -59.4Z" fill="#00a23c" stroke="#000" stroke-width="0.6" stroke-opacity="0.55"/>
<path d="M362.63 -56.2L364.05 -55.68L365.46 -55.14L366.87 -54.59L368.28 -54.03L369.68 -53.45L371.07 -52.86L372.46 -52.26L373.85 -51.64L375.23 -51.01L376.6 -50.37L377.97 -49.71L379.33 -49.04L380.69 -48.36L382.04 -47.67L383.38 -46.96L384.72 -46.25L386.05 -45.52L387.34 -44.79L388.62 -44.06L389.9 -43.31L391.16 -42.56L392.43 -41.79L393.68 -41.01L394.93 -40.22L396.17 -39.42L397.4 -38.6L398.62 -37.78L399.84 -36.94L401.05 -36.1L402.29 -35.22L403.52 -34.32L404.74 -33.42L405.95 -32.5L407.16 -31.58L408.35 -30.64L409.54 -29.69L410.72 -28.73L411.89 -27.76L413.05 -26.78L414.2 -25.78L415.34 -24.78L416.47 -23.77L417.6 -22.74L418.71 -21.71L419.82 -20.67L420.91 -19.61L422 -18.55L423.07 -17.47L424.14 -16.39L425.19 -15.29L426.24 -14.19L427.27 -13.07L428.26 -11.99L429.24 -10.9L430.21 -9.8L431.17 -8.69L432.12 -7.58L433.06 -6.45L433.98 -5.32L434.9 -4.18L435.81 -3.03L436.77 -1.8L437.72 -0.55L438.66 0.7L439.59 1.96L440.5 3.23L441.4 4.51L442.42 5.98L443.42 7.47L444.41 8.96L445.38 10.47L446.39 12.06L447.38 13.66L448.35 15.27L449.18 16.67L449.99 18.07L450.78 19.48L451.56 20.87L452.32 22.27L453.06 23.68L453.89 25.28L454.7 26.9L455.5 28.52L456.15 29.89L456.79 31.27L457.42 32.65L458.03 34.04L458.65 35.45L459.24 36.87L459.83 38.29L460.4 39.72L460.96 41.14L461.5 42.56L462.02 43.98L462.54 45.41L463.02 46.79L463.5 48.17L463.96 49.56L464.41 50.95L464.95 52.68L465.48 54.42L465.98 56.16L466.43 57.73L466.86 59.31L467.27 60.88L467.8 62.95L468.31 65.02L468.74 66.84L469.15 68.67L469.52 70.3L469.87 71.94L470.18 73.45L470.48 74.95L470.75 76.39L471.01 77.82L471.49 80.66L471.92 83.47L472.31 86.17L472.64 88.71L472.91 91.07L473.13 93.21L473.27 95.09L473.36 96.7L473.4 98.06L473.4 99.2L473.39 100.14L473.37 100.89L473.36 101.5L473.36 101.5L473.39 100.03L473.4 98.57L473.4 97.11L473.38 95.65L473.36 94.19L473.32 92.73L473.26 91.27L473.2 89.81L473.12 88.36L473.03 86.9L472.93 85.44L472.81 83.99L472.68 82.53L472.54 81.08L472.39 79.62L472.22 78.17L472.04 76.72L471.85 75.28L471.64 73.83L471.42 72.39L471.19 70.94L470.95 69.5L470.69 68.07L470.43 66.63L470.14 65.2L469.85 63.77L469.55 62.34L469.23 60.91L468.9 59.49L468.55 58.07L468.2 56.65L467.83 55.24L467.45 53.83L467.06 52.42L466.65 51.02L466.23 49.62L465.8 48.22L465.36 46.83L464.91 45.44L464.44 44.06L463.96 42.68L463.47 41.3L462.97 39.93L462.46 38.56L461.93 37.2L461.39 35.84L460.84 34.49L460.28 33.14L459.71 31.8L459.12 30.46L458.53 29.13L457.92 27.8L457.3 26.48L456.67 25.16L456.02 23.85L455.37 22.54L454.7 21.24L454.03 19.95L453.34 18.66L452.64 17.38L451.93 16.1L451.2 14.83L450.47 13.57L449.73 12.31L448.97 11.06L448.2 9.82L447.43 8.58L446.64 7.35L445.84 6.13L445.03 4.92L444.21 3.71L443.38 2.51L442.54 1.31L441.69 0.12L440.83 -1.05L439.96 -2.23L439.07 -3.39L438.18 -4.55L437.28 -5.7L436.37 -6.84L435.44 -7.97L434.51 -9.09L433.57 -10.21L432.62 -11.32L431.66 -12.42L430.68 -13.51L429.7 -14.59L428.71 -15.66L427.71 -16.73L426.71 -17.78L425.69 -18.83L424.66 -19.87L423.63 -20.9L422.58 -21.92L421.53 -22.93L420.46 -23.93L419.39 -24.93L418.31 -25.91L417.22 -26.88L416.13 -27.85L415.02 -28.8L413.91 -29.75L412.78 -30.68L411.65 -31.61L410.52 -32.52L409.37 -33.43L408.22 -34.32L407.05 -35.21L405.88 -36.08L404.71 -36.95L403.52 -37.8L402.33 -38.65L401.13 -39.48L399.92 -40.3L398.71 -41.11L397.49 -41.92L396.26 -42.71L395.03 -43.49L393.79 -44.26L392.54 -45.01L391.28 -45.76L390.02 -46.5L388.75 -47.22L387.48 -47.94L386.2 -48.64L384.91 -49.33L383.62 -50.01L382.32 -50.68L381.02 -51.34L379.71 -51.99L378.39 -52.62L377.07 -53.25L375.75 -53.86L374.41 -54.46L373.08 -55.05L371.74 -55.62L370.39 -56.19L369.04 -56.74L367.68 -57.28L366.32 -57.81L364.95 -58.33L363.58 -58.83Z" fill="#00583a" stroke="#000" stroke-width="0.6" stroke-opacity="0.5"/>
<path d="M389.4 -45.59L390.65 -44.86L391.89 -44.12L393.13 -43.37L394.36 -42.61L395.58 -41.83L396.8 -41.05L398.01 -40.26L399.21 -39.45L400.41 -38.64L401.6 -37.82L402.78 -36.98L403.95 -36.14L405.12 -35.28L406.28 -34.41L407.43 -33.54L408.58 -32.65L409.71 -31.76L410.84 -30.85L411.96 -29.94L413.07 -29.01L414.18 -28.08L415.27 -27.13L416.36 -26.18L417.44 -25.21L418.51 -24.24L419.58 -23.26L420.63 -22.27L421.67 -21.27L422.71 -20.26L423.74 -19.24L424.76 -18.21L425.77 -17.17L426.77 -16.13L427.76 -15.08L428.74 -14.01L429.71 -12.94L430.68 -11.86L431.63 -10.77L432.58 -9.68L433.51 -8.57L434.44 -7.46L435.35 -6.34L436.26 -5.21L437.15 -4.08L438.04 -2.93L438.91 -1.78L439.78 -0.62L440.64 0.55L441.48 1.72L442.32 2.9L443.14 4.09L443.95 5.29L444.76 6.49L445.55 7.7L446.33 8.92L447.11 10.14L447.87 11.37L448.62 12.61L449.36 13.85L450.09 15.1L450.8 16.36L451.51 17.62L452.21 18.89L452.89 20.16L453.57 21.44L454.23 22.73L454.88 24.02L455.52 25.32L456.15 26.62L456.77 27.93L457.37 29.24L457.97 30.56L458.55 31.89L459.12 33.22L459.68 34.55L460.23 35.89L460.76 37.23L461.29 38.58L461.8 39.94L462.3 41.29L462.79 42.65L463.27 44.02L463.73 45.39L464.19 46.76L464.63 48.14L465.06 49.52L465.47 50.91L465.88 52.3L466.27 53.69L466.65 55.09L467.02 56.49L467.38 57.89" fill="none" stroke="#14ec78" stroke-width="1.7" stroke-opacity="0.95"/>
<path d="M467.95 60.73L468.27 62.14L468.58 63.55L468.87 64.96L469.16 66.38L469.43 67.8L469.68 69.23L469.93 70.65L470.16 72.08L470.38 73.51L470.59 74.94L470.78 76.37L470.96 77.81L471.13 79.24L471.29 80.68L471.44 82.12L471.57 83.56L471.69 85L471.8 86.44L471.89 87.88L471.97 89.33L472.04 90.77L472.1 92.22" fill="none" stroke="#10e070" stroke-width="0.9" stroke-dasharray="1.2 2.6" stroke-opacity="0.85"/>
<circle cx="306.5" cy="98.0" r="164.0" fill="none" stroke="rgba(110,110,110,0.10)" stroke-width="10.600000000000023"/>
<circle cx="306.5" cy="98.0" r="169.3" fill="none" stroke="rgba(0,0,0,0.5)" stroke-width="0.7"/>
<circle cx="306.5" cy="98.0" r="158.7" fill="none" stroke="rgba(0,0,0,0.5)" stroke-width="0.7"/>
<path d="M289.3 250C289.42 248.58 289.72 246.78 290.5 245.5C291.28 244.22 292.87 243 294 242.3C295.13 241.6 296.22 241.27 297.3 241.3C298.38 241.33 299.38 241.72 300.5 242.5C301.62 243.28 302.58 245.58 304 246C305.42 246.42 307.5 245.45 309 245C310.5 244.55 311.58 243.42 313 243.3C314.42 243.18 316.28 243.52 317.5 244.3C318.72 245.08 319.73 246.72 320.3 248C320.87 249.28 321.03 250.58 320.9 252C320.77 253.42 320.48 255.2 319.5 256.5C318.52 257.8 316.75 259.02 315 259.8C313.25 260.58 311 260.92 309 261.2C307 261.48 305 261.57 303 261.5C301 261.43 298.83 261.38 297 260.8C295.17 260.22 293.2 259.13 292 258C290.8 256.87 290.25 255.33 289.8 254C289.35 252.67 289.18 251.42 289.3 250Z" fill="#ff0000" stroke="#000" stroke-opacity="0.7" stroke-width="0.7"/>
<path d="M289.3 250C289.42 248.58 289.72 246.78 290.5 245.5C291.28 244.22 292.87 243 294 242.3C295.13 241.6 296.22 241.27 297.3 241.3C298.38 241.33 299.38 241.72 300.5 242.5C301.62 243.28 302.58 245.58 304 246C305.42 246.42 307.5 245.45 309 245C310.5 244.55 311.58 243.42 313 243.3C314.42 243.18 316.28 243.52 317.5 244.3C318.72 245.08 319.73 246.72 320.3 248C320.87 249.28 321.03 250.58 320.9 252C320.77 253.42 320.48 255.2 319.5 256.5C318.52 257.8 316.75 259.02 315 259.8C313.25 260.58 311 260.92 309 261.2C307 261.48 305 261.57 303 261.5C301 261.43 298.83 261.38 297 260.8C295.17 260.22 293.2 259.13 292 258C290.8 256.87 290.25 255.33 289.8 254C289.35 252.67 289.18 251.42 289.3 250Z" fill="rgba(110,110,110,0.10)" clip-path="url(#awallc)"/>
<circle cx="306.6" cy="238.3" r="6.5" fill="#e41c20" stroke="#1c1014" stroke-opacity="0.9" stroke-width="0.8"/><circle cx="306.39" cy="239.5" r="5.2" fill="#e02a2a" stroke="#3c1418" stroke-width="0.5" stroke-opacity="0.55"/><circle cx="306.18" cy="240.7" r="3.8" fill="#e43c20" stroke="#40181c" stroke-width="0.5" stroke-opacity="0.6"/><circle cx="306" cy="241.7" r="2.5" fill="#ea6414" stroke="#40200c" stroke-width="0.5" stroke-opacity="0.7"/><circle cx="305.9" cy="242.3" r="1.3" fill="#e0b000" stroke="#302000" stroke-width="0.5"/>
<circle cx="299.6" cy="251.2" r="6.5" fill="#e41c20" stroke="#1c1014" stroke-opacity="0.9" stroke-width="0.8"/><circle cx="299.99" cy="250.81" r="5.2" fill="#e02a2a" stroke="#3c1418" stroke-width="0.5" stroke-opacity="0.55"/><circle cx="300.38" cy="250.42" r="3.8" fill="#e43c20" stroke="#40181c" stroke-width="0.5" stroke-opacity="0.6"/><circle cx="300.7" cy="250.09" r="2.5" fill="#ea6414" stroke="#40200c" stroke-width="0.5" stroke-opacity="0.7"/><circle cx="300.9" cy="249.9" r="1.3" fill="#0c0400" stroke="#302000" stroke-width="0.5"/>
<circle cx="313.9" cy="251.2" r="6.5" fill="#e41c20" stroke="#1c1014" stroke-opacity="0.9" stroke-width="0.8"/><circle cx="312.49" cy="250.6" r="5.2" fill="#e02a2a" stroke="#3c1418" stroke-width="0.5" stroke-opacity="0.55"/><circle cx="311.08" cy="250" r="3.8" fill="#e43c20" stroke="#40181c" stroke-width="0.5" stroke-opacity="0.6"/><circle cx="309.9" cy="249.5" r="2.5" fill="#ea6414" stroke="#40200c" stroke-width="0.5" stroke-opacity="0.7"/><circle cx="309.2" cy="249.2" r="1.3" fill="#ecc800" stroke="#302000" stroke-width="0.5"/>
<circle cx="306.6" cy="245.6" r="1" fill="#e8a000"/><circle cx="306.2" cy="243.9" r="0.7" fill="#302000"/>
<path d="M306.6 17.2L303.6 26.2H309.6Z" fill="#00a800"/>
<circle cx="306.6" cy="98.9" r="3.3" fill="#4068e0"/><circle cx="309" cy="95.3" r="1" fill="none" stroke="#4068e0" stroke-width="0.6"/>
<path d="M586 96.2V101.9L594.4 99Z" fill="#ff1414"/>
<rect x="185.5" y="363.6" width="120.3" height="6.4" fill="#fff" stroke="#222" stroke-width="0.8"/>
<rect x="305.8" y="363.2" width="120" height="7.2" fill="#000"/>
<g font-family="Liberation Sans, sans-serif" font-size="7" fill="#182800"><text x="183.5" y="377">0</text><text x="301.6" y="377">35</text><text x="422.5" y="377">70 (mm)</text></g>
</g>
<g clip-path="url(#cb)">
<rect x="0" y="390" width="603" height="400" fill="#0000ea"/>
<g clip-path="url(#bin)"><path d="M399 666.4L398.77 672.91L398.09 679.38L396.96 685.8L395.39 692.12L393.37 698.31L390.93 704.35L388.08 710.2L384.82 715.84L381.18 721.24L377.17 726.37L372.81 731.21L368.13 735.74L363.14 739.92L357.87 743.75L352.35 747.2L346.6 750.26L340.65 752.91L334.53 755.13L328.27 756.93L321.9 758.28L315.45 759.19L308.96 759.64L302.44 759.64L295.95 759.19L289.5 758.28L283.13 756.93L276.87 755.13L270.75 752.91L264.8 750.26L259.05 747.2L253.53 743.75L248.26 739.92L243.27 735.74L238.59 731.21L234.23 726.37L230.22 721.24L226.58 715.84L223.32 710.2L220.47 704.35L218.03 698.31L216.01 692.12L214.44 685.8L213.31 679.38L212.63 672.91L212.4 666.4L212.63 659.89L213.31 653.42L214.44 647L216.01 640.68L218.03 634.49L220.47 628.45L223.32 622.6L226.58 616.96L230.22 611.56L234.23 606.43L238.59 601.59L243.27 597.06L248.26 592.88L253.53 589.05L259.05 585.6L264.8 582.54L270.75 579.89L276.87 577.67L283.13 575.87L289.5 574.52L295.95 573.61L302.44 573.16L308.96 573.16L315.45 573.61L321.9 574.52L328.27 575.87L334.53 577.67L340.65 579.89L346.6 582.54L352.35 585.6L357.87 589.05L363.14 592.88L368.13 597.06L372.81 601.59L377.17 606.43L381.18 611.56L384.82 616.96L388.08 622.6L390.93 628.45L393.37 634.49L395.39 640.68L396.96 647L398.09 653.42L398.77 659.89L399 666.4Z" fill="#0040e8"/><path d="M399 666.4L398.77 672.91L398.09 679.38L396.96 685.8L395.39 692.12L393.37 698.31L390.93 704.35L388.08 710.2L384.82 715.84L381.18 721.24L377.17 726.37L372.81 731.21L368.13 735.74L363.14 739.92L357.87 743.75L352.35 747.2L346.6 750.26L340.65 752.91L334.53 755.13L328.27 756.93L321.9 758.28L315.45 759.19L308.96 759.64L302.44 759.64L295.95 759.19L289.5 758.28L283.13 756.93L276.87 755.13L270.75 752.91L264.8 750.26L259.05 747.2L253.53 743.75L248.26 739.92L243.27 735.74L238.59 731.21L234.23 726.37L230.22 721.24L226.58 715.84L223.32 710.2L220.47 704.35L218.03 698.31L216.01 692.12L214.44 685.8L213.31 679.38L212.63 672.91L212.4 666.4L212.63 659.89L213.31 653.42L214.44 647L216.01 640.68L218.03 634.49L220.47 628.45L223.32 622.6L226.58 616.96L230.22 611.56L234.23 606.43L238.59 601.59L243.27 597.06L248.26 592.88L253.53 589.05L259.05 585.6L264.8 582.54L270.75 579.89L276.87 577.67L283.13 575.87L289.5 574.52L295.95 573.61L302.44 573.16L308.96 573.16L315.45 573.61L321.9 574.52L328.27 575.87L334.53 577.67L340.65 579.89L346.6 582.54L352.35 585.6L357.87 589.05L363.14 592.88L368.13 597.06L372.81 601.59L377.17 606.43L381.18 611.56L384.82 616.96L388.08 622.6L390.93 628.45L393.37 634.49L395.39 640.68L396.96 647L398.09 653.42L398.77 659.89L399 666.4Z" fill="none" stroke="#08204a" stroke-width="0.8"/></g>
<g clip-path="url(#bout)"><path d="M371.4 630.3L371.15 636.09L370.39 641.83L369.14 647.49L367.4 653.01L365.18 658.36L362.5 663.5L359.39 668.39L355.87 672.98L351.95 677.25L347.68 681.17L343.09 684.69L338.2 687.8L333.06 690.48L327.71 692.7L322.19 694.44L316.53 695.69L310.79 696.45L305 696.7L299.21 696.45L293.47 695.69L287.81 694.44L282.29 692.7L276.94 690.48L271.8 687.8L266.91 684.69L262.32 681.17L258.05 677.25L254.13 672.98L250.61 668.39L247.5 663.5L244.82 658.36L242.6 653.01L240.86 647.49L239.61 641.83L238.85 636.09L238.6 630.3L238.85 624.51L239.61 618.77L240.86 613.11L242.6 607.59L244.82 602.24L247.5 597.1L250.61 592.21L254.13 587.62L258.05 583.35L262.32 579.43L266.91 575.91L271.8 572.8L276.94 570.12L282.29 567.9L287.81 566.16L293.47 564.91L299.21 564.15L305 563.9L310.79 564.15L316.53 564.91L322.19 566.16L327.71 567.9L333.06 570.12L338.2 572.8L343.09 575.91L347.68 579.43L351.95 583.35L355.87 587.62L359.39 592.21L362.5 597.1L365.18 602.24L367.4 607.59L369.14 613.11L370.39 618.77L371.15 624.51L371.4 630.3Z" fill="#0040e8"/><path d="M371.4 630.3L371.15 636.09L370.39 641.83L369.14 647.49L367.4 653.01L365.18 658.36L362.5 663.5L359.39 668.39L355.87 672.98L351.95 677.25L347.68 681.17L343.09 684.69L338.2 687.8L333.06 690.48L327.71 692.7L322.19 694.44L316.53 695.69L310.79 696.45L305 696.7L299.21 696.45L293.47 695.69L287.81 694.44L282.29 692.7L276.94 690.48L271.8 687.8L266.91 684.69L262.32 681.17L258.05 677.25L254.13 672.98L250.61 668.39L247.5 663.5L244.82 658.36L242.6 653.01L240.86 647.49L239.61 641.83L238.85 636.09L238.6 630.3L238.85 624.51L239.61 618.77L240.86 613.11L242.6 607.59L244.82 602.24L247.5 597.1L250.61 592.21L254.13 587.62L258.05 583.35L262.32 579.43L266.91 575.91L271.8 572.8L276.94 570.12L282.29 567.9L287.81 566.16L293.47 564.91L299.21 564.15L305 563.9L310.79 564.15L316.53 564.91L322.19 566.16L327.71 567.9L333.06 570.12L338.2 572.8L343.09 575.91L347.68 579.43L351.95 583.35L355.87 587.62L359.39 592.21L362.5 597.1L365.18 602.24L367.4 607.59L369.14 613.11L370.39 618.77L371.15 624.51L371.4 630.3Z" fill="none" stroke="#08204a" stroke-width="0.8"/></g>
<path d="M220.84 627.3L221.82 628.46L222.81 629.62L223.81 630.78L224.83 631.93L225.86 633.07L226.91 634.2L227.97 635.32L229.05 636.44L230.14 637.55L231.24 638.65L232.36 639.75L233.49 640.83L234.63 641.91L235.79 642.98L236.96 644.03L238.15 645.08L238.72 648.84L238.56 649.21L241.36 650.4L244.17 651.54L247.01 652.63L249.87 653.67L252.74 654.66L255.63 655.6L258.54 656.48L261.46 657.31L264.4 658.09L267.35 658.82L270.31 659.5L273.29 660.12L276.27 660.69L279.27 661.2L282.27 661.66L285.28 662.07L288.3 662.42L291.32 662.72L294.35 662.96L297.39 663.16L300.42 663.29L303.46 663.37L306.5 663.4L306.5 663.4L309.59 663.37L312.68 663.29L315.76 663.15L318.84 662.95L321.92 662.7L325 662.39L328.06 662.02L331.12 661.6L334.17 661.13L337.22 660.6L340.25 660.01L343.27 659.37L346.28 658.67L349.28 657.92L352.26 657.11L355.22 656.25L358.18 655.34L361.11 654.37L364.02 653.35L366.92 652.28L369.8 651.15L369.65 650.78L370.52 647.51L371.73 646.52L372.93 645.52L374.12 644.52L375.29 643.51L376.45 642.48L377.6 641.45L378.73 640.41L379.85 639.36L380.96 638.3L382.06 637.24L383.14 636.17L384.21 635.09L385.26 634L386.31 632.9L387.33 631.8L388.35 630.69L389.35 629.57L390.34 628.45L390.13 628.11L387.7 629.59L385.25 631.02L382.77 632.41L380.27 633.76L377.74 635.06L375.19 636.32L372.62 637.53L370.03 638.69L367.42 639.81L364.78 640.88L362.13 641.9L359.46 642.88L356.77 643.8L354.07 644.68L351.35 645.51L348.62 646.29L345.87 647.03L343.11 647.71L340.34 648.34L337.56 648.92L334.77 649.46L331.97 649.94L329.16 650.37L326.34 650.75L323.52 651.08L320.69 651.36L317.86 651.59L315.02 651.77L312.18 651.9L309.34 651.97L306.5 652L306.5 652L303.68 651.97L300.86 651.9L298.04 651.77L295.23 651.6L292.42 651.37L289.61 651.1L286.81 650.77L284.01 650.39L281.22 649.97L278.44 649.49L275.67 648.97L272.91 648.4L270.16 647.77L267.42 647.1L264.69 646.38L261.98 645.61L259.28 644.79L256.6 643.93L253.93 643.02L251.28 642.05L248.64 641.05L246.03 639.99L243.43 638.89L240.85 637.75L238.3 636.55L235.76 635.32L233.25 634.03L230.76 632.71L228.3 631.33L225.86 629.92L223.44 628.46L221.05 626.96Z" fill="#0040e8"/>
<path d="M220.84 627.3L221.82 628.46L222.81 629.62L223.81 630.78L224.83 631.93L225.86 633.07L226.91 634.2L227.97 635.32L229.05 636.44L230.14 637.55L231.24 638.65L232.36 639.75L233.49 640.83L234.63 641.91L235.79 642.98L236.96 644.03L238.15 645.08L238.72 648.84" fill="none" stroke="#38487c" stroke-width="0.7" stroke-opacity="0.9"/>
<path d="M390.34 628.45L389.35 629.57L388.35 630.69L387.33 631.8L386.31 632.9L385.26 634L384.21 635.09L383.14 636.17L382.06 637.24L380.96 638.3L379.85 639.36L378.73 640.41L377.6 641.45L376.45 642.48L375.29 643.51L374.12 644.52L372.93 645.52L371.73 646.52L370.52 647.51L369.65 650.78" fill="none" stroke="#38487c" stroke-width="0.7" stroke-opacity="0.9"/>
<path d="M305.7 602.2C300.05 601.57 296.35 602.9 292 604C287.65 605.1 283.98 606.17 279.6 608.8C275.22 611.43 269.27 615.6 265.7 619.8C262.13 624 259.77 630.07 258.2 634C256.63 637.93 255.92 640.68 256.3 643.4C256.68 646.12 258.78 648.1 260.5 650.3C262.22 652.5 263.8 654.07 266.6 656.6C269.4 659.13 273.72 663.03 277.3 665.5C280.88 667.97 284.5 669.88 288.1 671.4C291.7 672.92 295.92 673.97 298.9 674.6C301.88 675.23 303.65 675.25 306 675.2C308.35 675.15 310.08 674.97 313 674.3C315.92 673.63 320.08 672.68 323.5 671.2C326.92 669.72 330.5 667.47 333.5 665.4C336.5 663.33 338.82 661.22 341.5 658.8C344.18 656.38 347.38 653.33 349.6 650.9C351.82 648.47 354.32 647.02 354.8 644.2C355.28 641.38 354.33 637.75 352.5 634C350.67 630.25 348.23 626.07 343.8 621.7C339.37 617.33 332.25 611.05 325.9 607.8C319.55 604.55 311.35 602.83 305.7 602.2Z" fill="#0088ea" stroke="#08204a" stroke-width="0.7"/>
<path d="M305.7 614.3C300.95 614.17 296.35 615.27 292 617.5C287.65 619.73 282.77 623.95 279.6 627.7C276.43 631.45 274.37 636.58 273 640C271.63 643.42 270.9 645.78 271.4 648.2C271.9 650.62 274.12 652.33 276 654.5C277.88 656.67 279.78 659.12 282.7 661.2C285.62 663.28 289.7 665.7 293.5 667C297.3 668.3 301.45 669.03 305.5 669C309.55 668.97 313.95 668.17 317.8 666.8C321.65 665.43 325.68 662.9 328.6 660.8C331.52 658.7 333.45 656.3 335.3 654.2C337.15 652.1 339.2 650.57 339.7 648.2C340.2 645.83 339.28 642.75 338.3 640C337.32 637.25 336.77 635.32 333.8 631.7C330.83 628.08 325.18 621.2 320.5 618.3C315.82 615.4 310.45 614.43 305.7 614.3Z" fill="#00c8f0" stroke="#08204a" stroke-width="0.7"/>
<path d="M306 619.5C302.33 619.5 298.33 620.92 295 622.5C291.67 624.08 288.33 626.42 286 629C283.67 631.58 282 635.17 281 638C280 640.83 279.58 643.42 280 646C280.42 648.58 281.33 651.08 283.5 653.5C285.67 655.92 289.3 658.75 293 660.5C296.7 662.25 301.45 663.95 305.7 664C309.95 664.05 314.78 662.47 318.5 660.8C322.22 659.13 325.77 656.47 328 654C330.23 651.53 331.48 648.67 331.9 646C332.32 643.33 331.4 640.58 330.5 638C329.6 635.42 328.75 633.08 326.5 630.5C324.25 627.92 320.42 624.33 317 622.5C313.58 620.67 309.67 619.5 306 619.5Z" fill="#00f0dc" stroke="#08204a" stroke-width="0.55"/>
<path d="M306 622.5C302.75 622.5 299.33 623.67 296.5 625C293.67 626.33 290.92 628.33 289 630.5C287.08 632.67 285.83 635.42 285 638C284.17 640.58 283.58 643.42 284 646C284.42 648.58 285.58 651.33 287.5 653.5C289.42 655.67 292.47 657.75 295.5 659C298.53 660.25 302.2 661 305.7 661C309.2 661 313.37 660.25 316.5 659C319.63 657.75 322.5 655.67 324.5 653.5C326.5 651.33 328.03 648.58 328.5 646C328.97 643.42 328.13 640.5 327.3 638C326.47 635.5 325.38 633.17 323.5 631C321.62 628.83 318.92 626.42 316 625C313.08 623.58 309.25 622.5 306 622.5Z" fill="#00f090" stroke="#08204a" stroke-width="0.55"/>
<path d="M306 625C303.08 624.95 300 625.9 297.5 627C295 628.1 292.67 629.68 291 631.6C289.33 633.52 288.17 636.1 287.5 638.5C286.83 640.9 286.53 643.62 287 646C287.47 648.38 288.72 650.93 290.3 652.8C291.88 654.67 293.93 656.22 296.5 657.2C299.07 658.18 302.53 658.7 305.7 658.7C308.87 658.7 312.7 658.18 315.5 657.2C318.3 656.22 320.75 654.67 322.5 652.8C324.25 650.93 325.58 648.38 326 646C326.42 643.62 325.75 640.83 325 638.5C324.25 636.17 323.17 633.87 321.5 632C319.83 630.13 317.58 628.47 315 627.3C312.42 626.13 308.92 625.05 306 625Z" fill="#00e83c" stroke="#08204a" stroke-width="0.55"/>
<path d="M306 627C303.42 627 300.67 628 298.5 629C296.33 630 294.42 631.25 293 633C291.58 634.75 290.58 637.33 290 639.5C289.42 641.67 289.12 643.92 289.5 646C289.88 648.08 290.97 650.37 292.3 652C293.63 653.63 295.27 655 297.5 655.8C299.73 656.6 302.87 656.8 305.7 656.8C308.53 656.8 312 656.6 314.5 655.8C317 655 319.12 653.63 320.7 652C322.28 650.37 323.62 648.17 324 646C324.38 643.83 323.75 641.17 323 639C322.25 636.83 321 634.67 319.5 633C318 631.33 316.25 630 314 629C311.75 628 308.58 627 306 627Z" fill="#2cdc00" stroke="#08204a" stroke-width="0.55"/>
<path d="M306 628.2C303.92 628.23 301.67 629.28 300 630.5C298.33 631.72 297.28 633.92 296 635.5C294.72 637.08 293.1 638.25 292.3 640C291.5 641.75 291 644.08 291.2 646C291.4 647.92 292.28 650.07 293.5 651.5C294.72 652.93 296.47 653.97 298.5 654.6C300.53 655.23 303.2 655.3 305.7 655.3C308.2 655.3 311.28 655.23 313.5 654.6C315.72 653.97 317.53 652.93 319 651.5C320.47 650.07 321.92 647.92 322.3 646C322.68 644.08 322.18 641.92 321.3 640C320.42 638.08 318.47 636.12 317 634.5C315.53 632.88 314.33 631.35 312.5 630.3C310.67 629.25 308.08 628.17 306 628.2Z" fill="#58c400" stroke="#08204a" stroke-width="0.6" stroke-opacity="0.8"/>
<path d="M303.5 638.5 L311.5 646.5 M311 638.5 L304 646.5" stroke="#0098d8" stroke-width="2.4" fill="none" stroke-linecap="round"/>
<circle cx="306.4" cy="634.3" r="6.5" fill="#3c8c18" stroke="#181c10" stroke-width="0.9"/><circle cx="306.4" cy="634.3" r="4.9" fill="#189048" stroke="#2c3420" stroke-width="0.7"/><circle cx="306.4" cy="634.3" r="3.3" fill="#0c7c90" stroke="#204050" stroke-width="0.5"/><circle cx="306.4" cy="634.3" r="1.7" fill="#0c58b8"/>
<circle cx="314.2" cy="646.0" r="6.5" fill="#48941c" stroke="#181c10" stroke-width="0.9"/><circle cx="314.2" cy="646.0" r="4.9" fill="#189850" stroke="#2c3420" stroke-width="0.7"/><circle cx="314.2" cy="646.0" r="3.3" fill="#0c8c88" stroke="#204050" stroke-width="0.5"/><circle cx="314.2" cy="646.0" r="1.7" fill="#0c74a8"/>
<circle cx="299.8" cy="646" r="7.3" fill="#506400" stroke="#181c00" stroke-width="0.8"/><circle cx="299.8" cy="645.9" r="5.8" fill="#2c2c04" stroke="#141400" stroke-width="0.6"/><circle cx="299.9" cy="645.8" r="4.3" fill="#0a0a0a"/>
<circle cx="306.5" cy="493.7" r="164.0" fill="none" stroke="rgba(150,150,160,0.13)" stroke-width="10.600000000000023"/>
<circle cx="306.5" cy="493.7" r="169.3" fill="none" stroke="rgba(64,80,128,0.85)" stroke-width="0.8"/>
<circle cx="306.5" cy="493.7" r="158.7" fill="none" stroke="rgba(64,80,128,0.85)" stroke-width="0.8"/>
<path d="M306.7 412.5L303.7 421.5H309.7Z" fill="#00a800"/>
<circle cx="306.6" cy="494.3" r="3.3" fill="#5078e0"/><circle cx="309" cy="490.8" r="1" fill="none" stroke="#5078e0" stroke-width="0.6"/>
<path d="M586 491.4V497.1L594.4 494.2Z" fill="#ff1414"/>
<rect x="185.5" y="758.6" width="120.3" height="6.4" fill="#fff" stroke="#222" stroke-width="0.8"/>
<rect x="305.8" y="758.2" width="120" height="7.2" fill="#000"/>
<g font-family="Liberation Sans, sans-serif" font-size="7" fill="#000028"><text x="183.5" y="772">0</text><text x="301.6" y="772">35</text><text x="422.5" y="772">70 (mm)</text></g>
</g>
<rect x="601" y="3" width="2" height="1" fill="#999"/><rect x="601" y="398" width="2" height="1" fill="#999"/>
</svg><div style="position:absolute;left:11px;top:4px;width:78px;height:186px;background:#fff"></div><div style="position:absolute;left:14.5px;top:7px;width:72.0px;height:179.5px;border:1px solid #6e6e6e;box-sizing:border-box"></div><div style="position:absolute;left:19px;top:10.6px;font:bold 7.2px 'Liberation Mono',monospace;color:#111;white-space:pre;line-height:9px">B [tesla]</div><div style="position:absolute;left:19px;top:34.8px;width:19px;height:9.8px;background:#ff0000"></div><div style="position:absolute;left:19px;top:44.48px;width:19px;height:9.8px;background:#ff4400"></div><div style="position:absolute;left:19px;top:54.16px;width:19px;height:9.8px;background:#ff8800"></div><div style="position:absolute;left:19px;top:63.84px;width:19px;height:9.8px;background:#ffdc00"></div><div style="position:absolute;left:19px;top:73.52px;width:19px;height:9.8px;background:#dcff00"></div><div style="position:absolute;left:19px;top:83.2px;width:19px;height:9.8px;background:#88ff00"></div><div style="position:absolute;left:19px;top:92.88px;width:19px;height:9.8px;background:#44f000"></div><div style="position:absolute;left:19px;top:102.56px;width:19px;height:9.8px;background:#00ff00"></div><div style="position:absolute;left:19px;top:112.24px;width:19px;height:9.8px;background:#00ff44"></div><div style="position:absolute;left:19px;top:121.92px;width:19px;height:9.8px;background:#00ff88"></div><div style="position:absolute;left:19px;top:131.6px;width:19px;height:9.8px;background:#00ffdc"></div><div style="position:absolute;left:19px;top:141.28px;width:19px;height:9.8px;background:#00dcff"></div><div style="position:absolute;left:19px;top:150.96px;width:19px;height:9.8px;background:#0088ff"></div><div style="position:absolute;left:19px;top:160.64px;width:19px;height:9.8px;background:#0044ff"></div><div style="position:absolute;left:19px;top:170.32px;width:19px;height:9.8px;background:#0000ff"></div><div style="position:absolute;left:40.2px;top:31.9px;font:6.35px 'Liberation Mono',monospace;color:#3c3c3c;white-space:pre;line-height:8px">6.9249E-003</div><div style="position:absolute;left:40.2px;top:41.6px;font:6.35px 'Liberation Mono',monospace;color:#3c3c3c;white-space:pre;line-height:8px">3.2306E-003</div><div style="position:absolute;left:40.2px;top:51.3px;font:6.35px 'Liberation Mono',monospace;color:#3c3c3c;white-space:pre;line-height:8px">1.5072E-003</div><div style="position:absolute;left:40.2px;top:61px;font:6.35px 'Liberation Mono',monospace;color:#3c3c3c;white-space:pre;line-height:8px">7.0313E-004</div><div style="position:absolute;left:40.2px;top:70.7px;font:6.35px 'Liberation Mono',monospace;color:#3c3c3c;white-space:pre;line-height:8px">3.2803E-004</div><div style="position:absolute;left:40.2px;top:80.4px;font:6.35px 'Liberation Mono',monospace;color:#3c3c3c;white-space:pre;line-height:8px">1.5303E-004</div><div style="position:absolute;left:40.2px;top:90.1px;font:6.35px 'Liberation Mono',monospace;color:#3c3c3c;white-space:pre;line-height:8px">7.1393E-005</div><div style="position:absolute;left:40.2px;top:99.8px;font:6.35px 'Liberation Mono',monospace;color:#3c3c3c;white-space:pre;line-height:8px">3.3306E-005</div><div style="position:absolute;left:40.2px;top:109.5px;font:6.35px 'Liberation Mono',monospace;color:#3c3c3c;white-space:pre;line-height:8px">1.5538E-005</div><div style="position:absolute;left:40.2px;top:119.2px;font:6.35px 'Liberation Mono',monospace;color:#3c3c3c;white-space:pre;line-height:8px">7.2489E-006</div><div style="position:absolute;left:40.2px;top:128.9px;font:6.35px 'Liberation Mono',monospace;color:#3c3c3c;white-space:pre;line-height:8px">3.3818E-006</div><div style="position:absolute;left:40.2px;top:138.6px;font:6.35px 'Liberation Mono',monospace;color:#3c3c3c;white-space:pre;line-height:8px">1.5777E-006</div><div style="position:absolute;left:40.2px;top:148.3px;font:6.35px 'Liberation Mono',monospace;color:#3c3c3c;white-space:pre;line-height:8px">7.3603E-007</div><div style="position:absolute;left:40.2px;top:158px;font:6.35px 'Liberation Mono',monospace;color:#3c3c3c;white-space:pre;line-height:8px">3.4337E-007</div><div style="position:absolute;left:40.2px;top:167.7px;font:6.35px 'Liberation Mono',monospace;color:#3c3c3c;white-space:pre;line-height:8px">1.6019E-007</div><div style="position:absolute;left:40.2px;top:177.4px;font:6.35px 'Liberation Mono',monospace;color:#3c3c3c;white-space:pre;line-height:8px">7.4733E-008</div><div style="position:absolute;left:11px;top:399px;width:82px;height:186px;background:#fff"></div><div style="position:absolute;left:14.5px;top:402px;width:75.5px;height:179.5px;border:1px solid #6e6e6e;box-sizing:border-box"></div><div style="position:absolute;left:19px;top:405.6px;font:bold 7.2px 'Liberation Mono',monospace;color:#111;white-space:pre;line-height:9px">H [A/m]</div><div style="position:absolute;left:19px;top:429.8px;width:19px;height:9.8px;background:#ff0000"></div><div style="position:absolute;left:19px;top:439.48px;width:19px;height:9.8px;background:#ff4400"></div><div style="position:absolute;left:19px;top:449.16px;width:19px;height:9.8px;background:#ff8800"></div><div style="position:absolute;left:19px;top:458.84px;width:19px;height:9.8px;background:#ffdc00"></div><div style="position:absolute;left:19px;top:468.52px;width:19px;height:9.8px;background:#dcff00"></div><div style="position:absolute;left:19px;top:478.2px;width:19px;height:9.8px;background:#88ff00"></div><div style="position:absolute;left:19px;top:487.88px;width:19px;height:9.8px;background:#44f000"></div><div style="position:absolute;left:19px;top:497.56px;width:19px;height:9.8px;background:#00ff00"></div><div style="position:absolute;left:19px;top:507.24px;width:19px;height:9.8px;background:#00ff44"></div><div style="position:absolute;left:19px;top:516.92px;width:19px;height:9.8px;background:#00ff88"></div><div style="position:absolute;left:19px;top:526.6px;width:19px;height:9.8px;background:#00ffdc"></div><div style="position:absolute;left:19px;top:536.28px;width:19px;height:9.8px;background:#00dcff"></div><div style="position:absolute;left:19px;top:545.96px;width:19px;height:9.8px;background:#0088ff"></div><div style="position:absolute;left:19px;top:555.64px;width:19px;height:9.8px;background:#0044ff"></div><div style="position:absolute;left:19px;top:565.32px;width:19px;height:9.8px;background:#0000ff"></div><div style="position:absolute;left:44.2px;top:426.9px;font:6.35px 'Liberation Mono',monospace;color:#3c3c3c;white-space:pre;line-height:8px">5.5107E+003</div><div style="position:absolute;left:44.2px;top:436.6px;font:6.35px 'Liberation Mono',monospace;color:#3c3c3c;white-space:pre;line-height:8px">5.1434E+003</div><div style="position:absolute;left:44.2px;top:446.3px;font:6.35px 'Liberation Mono',monospace;color:#3c3c3c;white-space:pre;line-height:8px">4.7760E+003</div><div style="position:absolute;left:44.2px;top:456px;font:6.35px 'Liberation Mono',monospace;color:#3c3c3c;white-space:pre;line-height:8px">4.4086E+003</div><div style="position:absolute;left:44.2px;top:465.7px;font:6.35px 'Liberation Mono',monospace;color:#3c3c3c;white-space:pre;line-height:8px">4.0412E+003</div><div style="position:absolute;left:44.2px;top:475.4px;font:6.35px 'Liberation Mono',monospace;color:#3c3c3c;white-space:pre;line-height:8px">3.6739E+003</div><div style="position:absolute;left:44.2px;top:485.1px;font:6.35px 'Liberation Mono',monospace;color:#3c3c3c;white-space:pre;line-height:8px">3.3065E+003</div><div style="position:absolute;left:44.2px;top:494.8px;font:6.35px 'Liberation Mono',monospace;color:#3c3c3c;white-space:pre;line-height:8px">2.9391E+003</div><div style="position:absolute;left:44.2px;top:504.5px;font:6.35px 'Liberation Mono',monospace;color:#3c3c3c;white-space:pre;line-height:8px">2.5717E+003</div><div style="position:absolute;left:44.2px;top:514.2px;font:6.35px 'Liberation Mono',monospace;color:#3c3c3c;white-space:pre;line-height:8px">2.2043E+003</div><div style="position:absolute;left:44.2px;top:523.9px;font:6.35px 'Liberation Mono',monospace;color:#3c3c3c;white-space:pre;line-height:8px">1.8370E+003</div><div style="position:absolute;left:44.2px;top:533.6px;font:6.35px 'Liberation Mono',monospace;color:#3c3c3c;white-space:pre;line-height:8px">1.4696E+003</div><div style="position:absolute;left:44.2px;top:543.3px;font:6.35px 'Liberation Mono',monospace;color:#3c3c3c;white-space:pre;line-height:8px">1.1022E+003</div><div style="position:absolute;left:44.2px;top:553px;font:6.35px 'Liberation Mono',monospace;color:#3c3c3c;white-space:pre;line-height:8px">7.3482E+002</div><div style="position:absolute;left:44.2px;top:562.7px;font:6.35px 'Liberation Mono',monospace;color:#3c3c3c;white-space:pre;line-height:8px">3.6744E+002</div><div style="position:absolute;left:44.2px;top:572.4px;font:6.35px 'Liberation Mono',monospace;color:#3c3c3c;white-space:pre;line-height:8px">5.9471E-002</div>
<div style="position:absolute;left:5px;top:3px;width:0;height:789px;border-left:1px dashed #555"></div>
<div style="position:absolute;left:5px;top:3px;width:6px;height:0;border-top:1px dashed #555"></div>
<div style="position:absolute;left:5px;top:398px;width:5px;height:0;border-top:1px solid #555"></div>
<div style="position:absolute;left:298.8px;top:379.8px;letter-spacing:-0.3px;font:14px 'Liberation Sans',sans-serif;color:#000;line-height:17px">a)</div>
<div style="position:absolute;left:298.8px;top:774.8px;letter-spacing:-0.3px;font:14px 'Liberation Sans',sans-serif;color:#000;line-height:17px">b)</div>
</body></html>
